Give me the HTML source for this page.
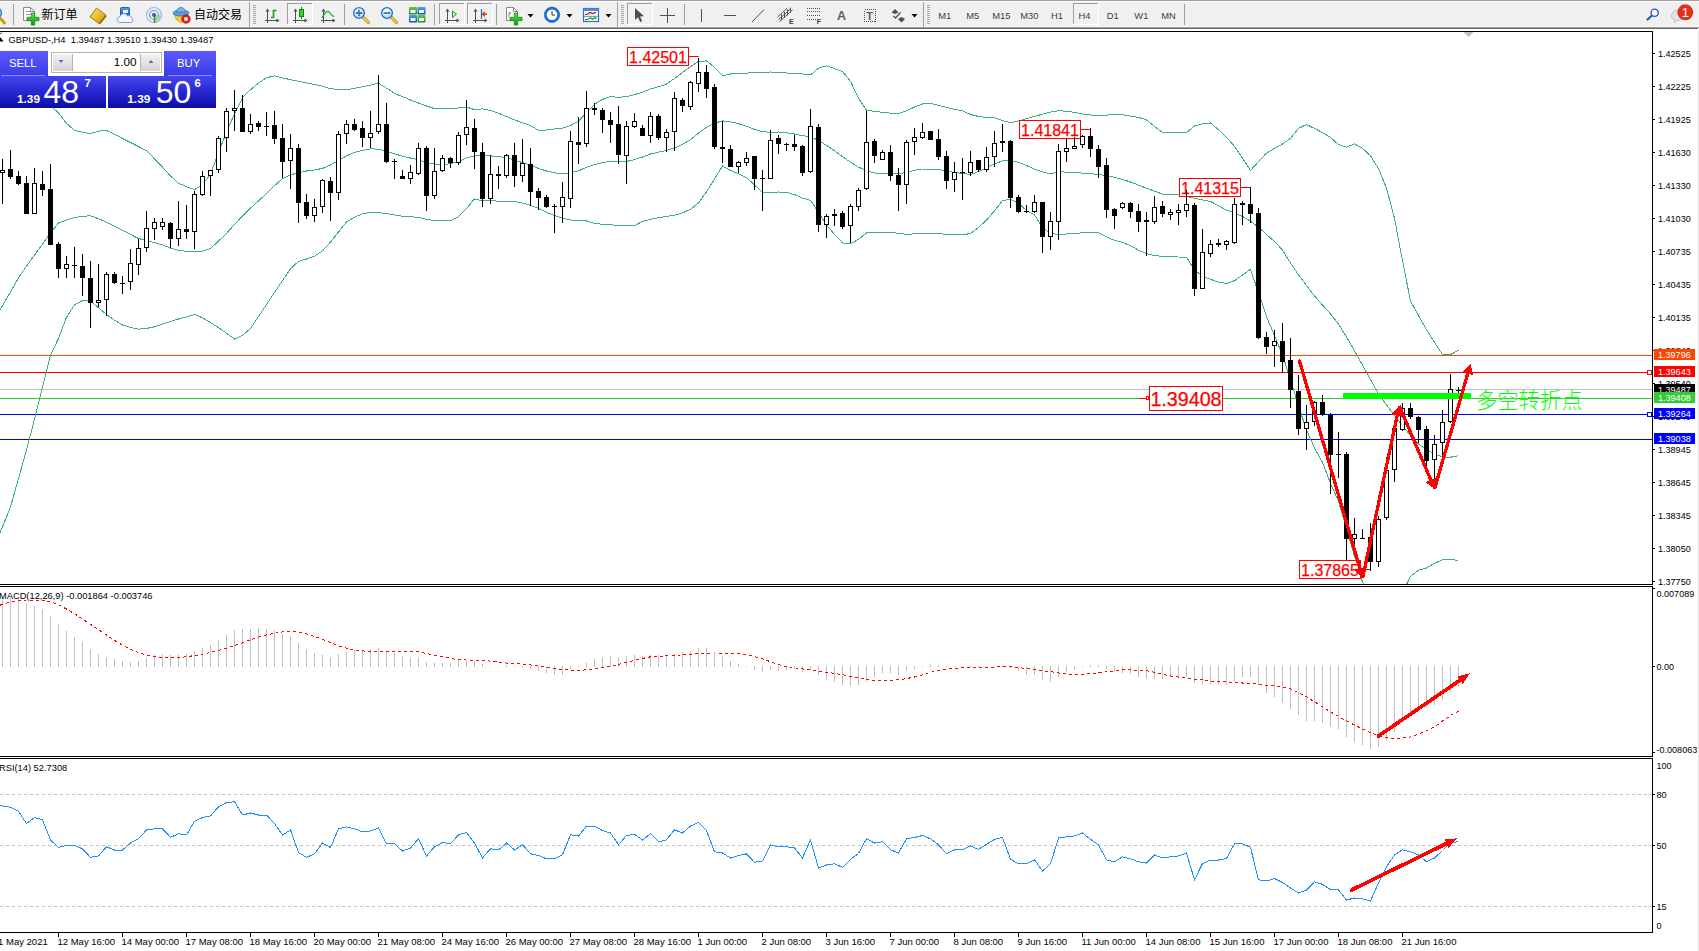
<!DOCTYPE html>
<html><head><meta charset="utf-8"><title>GBPUSD H4</title>
<style>
html,body{margin:0;padding:0;background:#fff;}
body{width:1699px;height:951px;position:relative;overflow:hidden;font-family:"Liberation Sans","Noto Sans CJK SC",sans-serif;}
</style></head><body>
<svg id="chart" width="1699" height="951" viewBox="0 0 1699 951" style="position:absolute;left:0;top:0" font-family="Liberation Sans, sans-serif">
<defs><clipPath id="cm"><rect x="0" y="32" width="1652" height="552"/></clipPath><clipPath id="cmacd"><rect x="0" y="587" width="1652" height="169"/></clipPath><clipPath id="crsi"><rect x="0" y="759" width="1652" height="173"/></clipPath></defs>
<g shape-rendering="crispEdges" fill="#000">
<rect x="0" y="31" width="1653" height="1"/>
<rect x="0" y="584" width="1653" height="1"/>
<rect x="0" y="586" width="1653" height="1"/>
<rect x="0" y="756" width="1653" height="1"/>
<rect x="0" y="758" width="1653" height="1"/>
<rect x="0" y="932" width="1653" height="1"/>
<rect x="1652" y="31" width="1" height="554"/>
<rect x="1652" y="586" width="1" height="171"/>
<rect x="1652" y="758" width="1" height="175"/>
</g>
<g shape-rendering="crispEdges">
<rect x="0" y="355" width="1652" height="1" fill="#ff4500"/>
<rect x="0" y="372" width="1652" height="1" fill="#ff0000"/>
<rect x="0" y="389" width="1652" height="1" fill="#c0c0c0"/>
<rect x="0" y="398" width="1652" height="1" fill="#32cd32"/>
<rect x="0" y="414" width="1652" height="1" fill="#0000ff"/>
<rect x="0" y="439" width="1652" height="1" fill="#0000ff"/>
</g>
<g clip-path="url(#cm)" fill="none" stroke="#3cb371" stroke-width="1" shape-rendering="crispEdges">
<polyline points="-5.5,66.5 2.5,71.8 10.5,77.2 18.5,82.5 26.5,87.8 34.5,93.6 42.5,99.8 50.5,106.1 58.5,112.8 66.5,123.3 74.5,130.5 82.5,132.2 90.5,133.6 98.5,131.1 106.5,130.6 114.5,134.2 122.5,138.5 130.5,142.5 138.5,146.5 146.5,150.7 154.5,158.8 162.5,167.2 170.5,176.0 178.5,183.2 186.5,186.7 194.5,189.6 202.5,184.6 210.5,174.2 218.5,152.5 226.5,132.1 234.5,113.9 242.5,97.8 250.5,89.8 258.5,83.2 266.5,77.7 274.5,75.9 282.5,77.8 290.5,79.7 298.5,81.3 306.5,82.9 314.5,84.4 322.5,86.2 330.5,88.7 338.5,89.4 346.5,89.8 354.5,88.3 362.5,86.8 370.5,85.1 378.5,83.3 386.5,88.1 394.5,93.3 402.5,96.7 410.5,100.0 418.5,103.0 426.5,106.0 434.5,108.7 442.5,108.9 450.5,108.9 458.5,108.0 466.5,107.0 474.5,109.7 482.5,108.9 490.5,110.5 498.5,113.2 506.5,116.5 514.5,119.9 522.5,122.9 530.5,125.5 538.5,130.3 546.5,130.0 554.5,129.0 562.5,128.1 570.5,125.6 578.5,121.2 586.5,112.6 594.5,104.2 602.5,99.4 610.5,96.4 618.5,97.4 626.5,96.6 634.5,94.6 642.5,92.2 650.5,88.9 658.5,86.7 666.5,84.1 674.5,78.5 682.5,72.6 690.5,66.6 698.5,61.4 706.5,60.9 714.5,67.3 722.5,75.8 730.5,74.0 738.5,73.5 746.5,73.1 754.5,72.7 762.5,72.4 770.5,72.0 778.5,72.5 786.5,73.0 794.5,73.9 802.5,74.0 810.5,74.9 818.5,68.1 826.5,65.8 834.5,68.7 842.5,71.6 850.5,81.3 858.5,98.3 866.5,110.1 874.5,111.5 882.5,112.3 890.5,113.2 898.5,113.6 906.5,110.9 914.5,107.0 922.5,104.0 930.5,103.5 938.5,105.4 946.5,107.5 954.5,109.4 962.5,110.7 970.5,114.5 978.5,116.5 986.5,117.4 994.5,117.9 1002.5,120.4 1010.5,122.9 1018.5,120.9 1026.5,118.7 1034.5,116.4 1042.5,114.2 1050.5,112.1 1058.5,110.8 1066.5,111.2 1074.5,112.3 1082.5,113.9 1090.5,115.0 1098.5,115.6 1106.5,115.1 1114.5,114.4 1122.5,114.7 1130.5,116.1 1138.5,117.4 1146.5,119.9 1154.5,126.4 1162.5,132.6 1170.5,132.6 1178.5,132.6 1186.5,132.6 1194.5,126.0 1202.5,123.8 1210.5,122.9 1218.5,129.7 1226.5,137.4 1234.5,146.3 1242.5,158.1 1250.5,170.4 1258.5,161.6 1266.5,153.1 1274.5,148.5 1282.5,144.0 1290.5,138.4 1298.5,128.4 1306.5,124.6 1314.5,128.4 1322.5,132.6 1330.5,137.4 1338.5,144.6 1346.5,147.2 1354.5,143.8 1362.5,148.4 1370.5,155.7 1378.5,168.7 1386.5,188.0 1394.5,218.4 1402.5,260.7 1410.5,301.1 1418.5,315.5 1426.5,329.5 1434.5,342.4 1442.5,354.5 1450.5,354.5 1458.5,350.4"/>
<polyline points="-5.5,319.7 2.5,305.7 10.5,291.8 18.5,277.8 26.5,266.2 34.5,255.1 42.5,244.1 50.5,233.1 58.5,223.0 66.5,220.1 74.5,217.5 82.5,216.5 90.5,215.7 98.5,218.8 106.5,222.1 114.5,226.1 122.5,230.1 130.5,234.4 138.5,238.5 146.5,240.5 154.5,242.6 162.5,244.9 170.5,248.0 178.5,250.4 186.5,251.3 194.5,251.3 202.5,251.3 210.5,248.4 218.5,241.2 226.5,233.3 234.5,224.6 242.5,215.8 250.5,208.2 258.5,200.9 266.5,193.6 274.5,185.6 282.5,178.7 290.5,174.8 298.5,172.7 306.5,171.0 314.5,170.0 322.5,168.4 330.5,165.0 338.5,160.5 346.5,155.9 354.5,152.3 362.5,150.4 370.5,148.9 378.5,149.1 386.5,151.0 394.5,153.8 402.5,156.2 410.5,158.0 418.5,159.7 426.5,162.4 434.5,164.1 442.5,165.0 450.5,163.6 458.5,161.8 466.5,157.8 474.5,155.8 482.5,154.9 490.5,155.9 498.5,156.6 506.5,157.5 514.5,160.1 522.5,162.6 530.5,164.9 538.5,168.4 546.5,171.0 554.5,172.8 562.5,174.0 570.5,172.6 578.5,170.9 586.5,167.2 594.5,164.6 602.5,162.7 610.5,161.1 618.5,161.7 626.5,161.5 634.5,159.6 642.5,157.0 650.5,154.0 658.5,152.1 666.5,150.6 674.5,148.0 682.5,144.3 690.5,139.6 698.5,133.1 706.5,127.2 714.5,123.2 722.5,120.8 730.5,121.8 738.5,123.7 746.5,126.1 754.5,129.4 762.5,131.7 770.5,132.3 778.5,132.0 786.5,132.8 794.5,134.0 802.5,135.7 810.5,136.6 818.5,140.5 826.5,145.3 834.5,150.7 842.5,156.7 850.5,162.2 858.5,167.1 866.5,170.6 874.5,173.0 882.5,173.3 890.5,173.5 898.5,173.5 906.5,172.6 914.5,170.3 922.5,169.0 930.5,169.0 938.5,169.5 946.5,171.1 954.5,172.4 962.5,173.4 970.5,174.5 978.5,171.6 986.5,167.9 994.5,163.9 1002.5,160.9 1010.5,160.5 1018.5,162.3 1026.5,165.5 1034.5,169.1 1042.5,171.8 1050.5,173.9 1058.5,171.6 1066.5,172.2 1074.5,172.7 1082.5,173.1 1090.5,173.7 1098.5,174.4 1106.5,175.8 1114.5,177.3 1122.5,179.4 1130.5,182.0 1138.5,185.1 1146.5,188.1 1154.5,191.1 1162.5,194.1 1170.5,194.4 1178.5,194.7 1186.5,196.5 1194.5,198.4 1202.5,199.9 1210.5,201.4 1218.5,205.8 1226.5,210.2 1234.5,212.9 1242.5,216.4 1250.5,221.2 1258.5,227.2 1266.5,234.4 1274.5,241.5 1282.5,250.0 1290.5,263.1 1298.5,275.0 1306.5,285.6 1314.5,295.9 1322.5,304.9 1330.5,313.9 1338.5,324.1 1346.5,337.0 1354.5,350.8 1362.5,365.1 1370.5,379.6 1378.5,394.0 1386.5,404.8 1394.5,415.4 1402.5,425.8 1410.5,435.5 1418.5,444.1 1426.5,449.5 1434.5,454.1 1442.5,456.9 1450.5,457.2 1458.5,455.7"/>
<polyline points="-5.5,546.4 2.5,526.7 10.5,506.9 18.5,478.6 26.5,449.9 34.5,419.2 42.5,387.2 50.5,355.3 58.5,338.4 66.5,317.2 74.5,305.0 82.5,300.5 90.5,300.9 98.5,307.8 106.5,314.5 114.5,320.2 122.5,325.0 130.5,327.5 138.5,329.1 146.5,328.4 154.5,326.8 162.5,324.1 170.5,321.4 178.5,319.0 186.5,316.8 194.5,314.5 202.5,317.9 210.5,322.6 218.5,327.6 226.5,333.3 234.5,339.0 242.5,335.3 250.5,328.6 258.5,316.6 266.5,304.6 274.5,292.6 282.5,280.6 290.5,268.7 298.5,261.5 306.5,259.0 314.5,256.2 322.5,250.9 330.5,242.1 338.5,232.0 346.5,221.9 354.5,217.2 362.5,213.9 370.5,212.4 378.5,212.7 386.5,213.5 394.5,215.0 402.5,216.2 410.5,216.7 418.5,217.4 426.5,219.5 434.5,220.4 442.5,220.5 450.5,220.7 458.5,216.6 466.5,208.7 474.5,198.8 482.5,200.9 490.5,200.4 498.5,201.3 506.5,201.4 514.5,201.5 522.5,203.1 530.5,205.4 538.5,208.3 546.5,212.3 554.5,215.6 562.5,218.2 570.5,220.0 578.5,220.4 586.5,221.0 594.5,223.4 602.5,224.3 610.5,224.9 618.5,225.3 626.5,225.6 634.5,225.7 642.5,221.3 650.5,219.4 658.5,217.8 666.5,216.4 674.5,215.2 682.5,212.9 690.5,209.2 698.5,203.1 706.5,191.7 714.5,179.1 722.5,166.0 730.5,170.5 738.5,173.7 746.5,177.6 754.5,184.9 762.5,192.3 770.5,192.3 778.5,192.0 786.5,192.3 794.5,194.6 802.5,198.1 810.5,200.3 818.5,212.2 826.5,225.0 834.5,234.3 842.5,242.9 850.5,243.9 858.5,239.3 866.5,233.0 874.5,232.6 882.5,232.4 890.5,232.4 898.5,233.3 906.5,234.4 914.5,233.8 922.5,233.5 930.5,233.5 938.5,233.6 946.5,234.4 954.5,234.9 962.5,234.7 970.5,233.6 978.5,227.5 986.5,220.1 994.5,210.8 1002.5,200.7 1010.5,199.3 1018.5,203.1 1026.5,210.7 1034.5,215.0 1042.5,227.2 1050.5,233.6 1058.5,234.3 1066.5,234.0 1074.5,233.5 1082.5,232.8 1090.5,232.5 1098.5,232.8 1106.5,236.8 1114.5,240.4 1122.5,242.5 1130.5,245.5 1138.5,250.2 1146.5,253.7 1154.5,255.7 1162.5,256.3 1170.5,256.8 1178.5,257.0 1186.5,257.2 1194.5,270.1 1202.5,276.0 1210.5,279.3 1218.5,282.2 1226.5,283.4 1234.5,280.7 1242.5,275.1 1250.5,269.4 1258.5,292.7 1266.5,316.7 1274.5,335.6 1282.5,354.8 1290.5,379.4 1298.5,406.0 1306.5,430.0 1314.5,448.0 1322.5,462.3 1330.5,483.5 1338.5,501.3 1346.5,528.7 1354.5,556.5 1362.5,582.1 1370.5,600.9 1378.5,608.5 1386.5,612.5 1394.5,604.5 1402.5,592.9 1410.5,576.2 1418.5,570.2 1426.5,568.1 1434.5,563.3 1442.5,559.8 1450.5,559.3 1458.5,560.5"/>
</g>
<rect x="627.5" y="47.5" width="61" height="18" fill="#fff" stroke="#ff0000" stroke-width="1" shape-rendering="crispEdges"/>
<text x="658.0" y="62.9" text-anchor="middle" font-size="16" fill="#ff0000" stroke="#ff0000" stroke-width="0.25">1.42501</text>
<rect x="689" y="56" width="10" height="1" fill="#ff0000" shape-rendering="crispEdges"/>
<rect x="1019.5" y="120.5" width="61" height="18" fill="#fff" stroke="#ff0000" stroke-width="1" shape-rendering="crispEdges"/>
<text x="1050.0" y="135.9" text-anchor="middle" font-size="16" fill="#ff0000" stroke="#ff0000" stroke-width="0.25">1.41841</text>
<rect x="1081" y="129" width="10" height="1" fill="#ff0000" shape-rendering="crispEdges"/>
<rect x="1179.5" y="178.5" width="61" height="18" fill="#fff" stroke="#ff0000" stroke-width="1" shape-rendering="crispEdges"/>
<text x="1210.0" y="193.9" text-anchor="middle" font-size="16" fill="#ff0000" stroke="#ff0000" stroke-width="0.25">1.41315</text>
<rect x="1241" y="187" width="10" height="1" fill="#ff0000" shape-rendering="crispEdges"/>
<rect x="1299.5" y="560.5" width="61" height="18" fill="#fff" stroke="#ff0000" stroke-width="1" shape-rendering="crispEdges"/>
<text x="1330.0" y="575.9" text-anchor="middle" font-size="16" fill="#ff0000" stroke="#ff0000" stroke-width="0.25">1.37865</text>
<rect x="1361" y="569" width="9" height="1" fill="#ff0000" shape-rendering="crispEdges"/>
<rect x="1149.5" y="386.5" width="73" height="24" fill="#fff" stroke="#ff0000" stroke-width="1" shape-rendering="crispEdges"/>
<text x="1186.0" y="406.3" text-anchor="middle" font-size="19.7" fill="#ff0000" stroke="#ff0000" stroke-width="0.25">1.39408</text>
<rect x="1139" y="398" width="7" height="1" fill="#ff0000" shape-rendering="crispEdges"/>
<rect x="1146.5" y="396.5" width="2" height="3" fill="#fff" stroke="#ff0000" shape-rendering="crispEdges"/>
<g clip-path="url(#cm)" shape-rendering="crispEdges">
<rect x="2" y="159" width="1" height="45" fill="#000"/>
<rect x="0" y="170" width="5" height="3" fill="#000"/>
<rect x="1" y="171" width="3" height="1" fill="#fff"/>
<rect x="10" y="150" width="1" height="29" fill="#000"/>
<rect x="8" y="169" width="5" height="8" fill="#000"/>
<rect x="18" y="171" width="1" height="14" fill="#000"/>
<rect x="16" y="176" width="5" height="8" fill="#000"/>
<rect x="26" y="176" width="1" height="38" fill="#000"/>
<rect x="24" y="183" width="5" height="31" fill="#000"/>
<rect x="34" y="168" width="1" height="46" fill="#000"/>
<rect x="32" y="183" width="5" height="31" fill="#000"/>
<rect x="33" y="184" width="3" height="29" fill="#fff"/>
<rect x="42" y="171" width="1" height="25" fill="#000"/>
<rect x="40" y="184" width="5" height="6" fill="#000"/>
<rect x="50" y="164" width="1" height="81" fill="#000"/>
<rect x="48" y="189" width="5" height="56" fill="#000"/>
<rect x="58" y="242" width="1" height="36" fill="#000"/>
<rect x="56" y="244" width="5" height="25" fill="#000"/>
<rect x="66" y="256" width="1" height="22" fill="#000"/>
<rect x="64" y="264" width="5" height="5" fill="#000"/>
<rect x="65" y="265" width="3" height="3" fill="#fff"/>
<rect x="74" y="247" width="1" height="31" fill="#000"/>
<rect x="72" y="265" width="5" height="1" fill="#000"/>
<rect x="82" y="254" width="1" height="42" fill="#000"/>
<rect x="80" y="266" width="5" height="12" fill="#000"/>
<rect x="90" y="261" width="1" height="67" fill="#000"/>
<rect x="88" y="278" width="5" height="25" fill="#000"/>
<rect x="98" y="264" width="1" height="43" fill="#000"/>
<rect x="96" y="300" width="5" height="3" fill="#000"/>
<rect x="97" y="301" width="3" height="1" fill="#fff"/>
<rect x="106" y="272" width="1" height="44" fill="#000"/>
<rect x="104" y="274" width="5" height="26" fill="#000"/>
<rect x="105" y="275" width="3" height="24" fill="#fff"/>
<rect x="114" y="272" width="1" height="12" fill="#000"/>
<rect x="112" y="274" width="5" height="9" fill="#000"/>
<rect x="122" y="276" width="1" height="18" fill="#000"/>
<rect x="120" y="283" width="5" height="1" fill="#000"/>
<rect x="130" y="249" width="1" height="41" fill="#000"/>
<rect x="128" y="263" width="5" height="19" fill="#000"/>
<rect x="129" y="264" width="3" height="17" fill="#fff"/>
<rect x="138" y="239" width="1" height="36" fill="#000"/>
<rect x="136" y="248" width="5" height="17" fill="#000"/>
<rect x="137" y="249" width="3" height="15" fill="#fff"/>
<rect x="146" y="211" width="1" height="41" fill="#000"/>
<rect x="144" y="228" width="5" height="20" fill="#000"/>
<rect x="145" y="229" width="3" height="18" fill="#fff"/>
<rect x="154" y="218" width="1" height="22" fill="#000"/>
<rect x="152" y="222" width="5" height="7" fill="#000"/>
<rect x="153" y="223" width="3" height="5" fill="#fff"/>
<rect x="162" y="218" width="1" height="12" fill="#000"/>
<rect x="160" y="222" width="5" height="5" fill="#000"/>
<rect x="161" y="223" width="3" height="3" fill="#fff"/>
<rect x="170" y="222" width="1" height="26" fill="#000"/>
<rect x="168" y="223" width="5" height="16" fill="#000"/>
<rect x="178" y="201" width="1" height="45" fill="#000"/>
<rect x="176" y="229" width="5" height="10" fill="#000"/>
<rect x="177" y="230" width="3" height="8" fill="#fff"/>
<rect x="186" y="205" width="1" height="34" fill="#000"/>
<rect x="184" y="229" width="5" height="3" fill="#000"/>
<rect x="194" y="191" width="1" height="58" fill="#000"/>
<rect x="192" y="194" width="5" height="38" fill="#000"/>
<rect x="193" y="195" width="3" height="36" fill="#fff"/>
<rect x="202" y="171" width="1" height="25" fill="#000"/>
<rect x="200" y="176" width="5" height="19" fill="#000"/>
<rect x="201" y="177" width="3" height="17" fill="#fff"/>
<rect x="210" y="170" width="1" height="26" fill="#000"/>
<rect x="208" y="170" width="5" height="6" fill="#000"/>
<rect x="209" y="171" width="3" height="4" fill="#fff"/>
<rect x="218" y="136" width="1" height="37" fill="#000"/>
<rect x="216" y="138" width="5" height="32" fill="#000"/>
<rect x="217" y="139" width="3" height="30" fill="#fff"/>
<rect x="226" y="108" width="1" height="44" fill="#000"/>
<rect x="224" y="111" width="5" height="27" fill="#000"/>
<rect x="225" y="112" width="3" height="25" fill="#fff"/>
<rect x="234" y="90" width="1" height="41" fill="#000"/>
<rect x="232" y="108" width="5" height="3" fill="#000"/>
<rect x="233" y="109" width="3" height="1" fill="#fff"/>
<rect x="242" y="95" width="1" height="37" fill="#000"/>
<rect x="240" y="108" width="5" height="24" fill="#000"/>
<rect x="250" y="114" width="1" height="20" fill="#000"/>
<rect x="248" y="124" width="5" height="8" fill="#000"/>
<rect x="249" y="125" width="3" height="6" fill="#fff"/>
<rect x="258" y="121" width="1" height="10" fill="#000"/>
<rect x="256" y="123" width="5" height="4" fill="#000"/>
<rect x="266" y="112" width="1" height="24" fill="#000"/>
<rect x="264" y="126" width="5" height="1" fill="#000"/>
<rect x="274" y="111" width="1" height="33" fill="#000"/>
<rect x="272" y="125" width="5" height="14" fill="#000"/>
<rect x="282" y="124" width="1" height="54" fill="#000"/>
<rect x="280" y="138" width="5" height="24" fill="#000"/>
<rect x="290" y="134" width="1" height="55" fill="#000"/>
<rect x="288" y="148" width="5" height="13" fill="#000"/>
<rect x="289" y="149" width="3" height="11" fill="#fff"/>
<rect x="298" y="144" width="1" height="79" fill="#000"/>
<rect x="296" y="148" width="5" height="55" fill="#000"/>
<rect x="306" y="194" width="1" height="25" fill="#000"/>
<rect x="304" y="202" width="5" height="14" fill="#000"/>
<rect x="314" y="199" width="1" height="23" fill="#000"/>
<rect x="312" y="207" width="5" height="9" fill="#000"/>
<rect x="313" y="208" width="3" height="7" fill="#fff"/>
<rect x="322" y="179" width="1" height="34" fill="#000"/>
<rect x="320" y="180" width="5" height="27" fill="#000"/>
<rect x="321" y="181" width="3" height="25" fill="#fff"/>
<rect x="330" y="177" width="1" height="44" fill="#000"/>
<rect x="328" y="181" width="5" height="12" fill="#000"/>
<rect x="338" y="131" width="1" height="69" fill="#000"/>
<rect x="336" y="134" width="5" height="59" fill="#000"/>
<rect x="337" y="135" width="3" height="57" fill="#fff"/>
<rect x="346" y="120" width="1" height="24" fill="#000"/>
<rect x="344" y="124" width="5" height="10" fill="#000"/>
<rect x="345" y="125" width="3" height="8" fill="#fff"/>
<rect x="354" y="119" width="1" height="12" fill="#000"/>
<rect x="352" y="124" width="5" height="6" fill="#000"/>
<rect x="362" y="121" width="1" height="26" fill="#000"/>
<rect x="360" y="128" width="5" height="10" fill="#000"/>
<rect x="370" y="111" width="1" height="37" fill="#000"/>
<rect x="368" y="133" width="5" height="5" fill="#000"/>
<rect x="369" y="134" width="3" height="3" fill="#fff"/>
<rect x="378" y="75" width="1" height="59" fill="#000"/>
<rect x="376" y="124" width="5" height="8" fill="#000"/>
<rect x="377" y="125" width="3" height="6" fill="#fff"/>
<rect x="386" y="103" width="1" height="60" fill="#000"/>
<rect x="384" y="124" width="5" height="38" fill="#000"/>
<rect x="394" y="159" width="1" height="20" fill="#000"/>
<rect x="392" y="161" width="5" height="1" fill="#000"/>
<rect x="402" y="170" width="1" height="9" fill="#000"/>
<rect x="400" y="176" width="5" height="3" fill="#000"/>
<rect x="410" y="165" width="1" height="19" fill="#000"/>
<rect x="408" y="172" width="5" height="7" fill="#000"/>
<rect x="409" y="173" width="3" height="5" fill="#fff"/>
<rect x="418" y="143" width="1" height="32" fill="#000"/>
<rect x="416" y="148" width="5" height="26" fill="#000"/>
<rect x="417" y="149" width="3" height="24" fill="#fff"/>
<rect x="426" y="146" width="1" height="65" fill="#000"/>
<rect x="424" y="148" width="5" height="48" fill="#000"/>
<rect x="434" y="148" width="1" height="51" fill="#000"/>
<rect x="432" y="171" width="5" height="25" fill="#000"/>
<rect x="433" y="172" width="3" height="23" fill="#fff"/>
<rect x="442" y="155" width="1" height="17" fill="#000"/>
<rect x="440" y="158" width="5" height="13" fill="#000"/>
<rect x="441" y="159" width="3" height="11" fill="#fff"/>
<rect x="450" y="157" width="1" height="11" fill="#000"/>
<rect x="448" y="158" width="5" height="5" fill="#000"/>
<rect x="458" y="132" width="1" height="33" fill="#000"/>
<rect x="456" y="135" width="5" height="28" fill="#000"/>
<rect x="457" y="136" width="3" height="26" fill="#fff"/>
<rect x="466" y="100" width="1" height="45" fill="#000"/>
<rect x="464" y="127" width="5" height="8" fill="#000"/>
<rect x="465" y="128" width="3" height="6" fill="#fff"/>
<rect x="474" y="119" width="1" height="50" fill="#000"/>
<rect x="472" y="128" width="5" height="24" fill="#000"/>
<rect x="482" y="143" width="1" height="64" fill="#000"/>
<rect x="480" y="152" width="5" height="47" fill="#000"/>
<rect x="490" y="155" width="1" height="49" fill="#000"/>
<rect x="488" y="174" width="5" height="25" fill="#000"/>
<rect x="489" y="175" width="3" height="23" fill="#fff"/>
<rect x="498" y="166" width="1" height="23" fill="#000"/>
<rect x="496" y="174" width="5" height="2" fill="#000"/>
<rect x="506" y="154" width="1" height="24" fill="#000"/>
<rect x="504" y="155" width="5" height="21" fill="#000"/>
<rect x="505" y="156" width="3" height="19" fill="#fff"/>
<rect x="514" y="143" width="1" height="44" fill="#000"/>
<rect x="512" y="155" width="5" height="21" fill="#000"/>
<rect x="522" y="139" width="1" height="43" fill="#000"/>
<rect x="520" y="163" width="5" height="13" fill="#000"/>
<rect x="521" y="164" width="3" height="11" fill="#fff"/>
<rect x="530" y="148" width="1" height="58" fill="#000"/>
<rect x="528" y="164" width="5" height="28" fill="#000"/>
<rect x="538" y="188" width="1" height="22" fill="#000"/>
<rect x="536" y="191" width="5" height="7" fill="#000"/>
<rect x="546" y="195" width="1" height="13" fill="#000"/>
<rect x="544" y="197" width="5" height="10" fill="#000"/>
<rect x="554" y="204" width="1" height="29" fill="#000"/>
<rect x="552" y="206" width="5" height="1" fill="#000"/>
<rect x="562" y="182" width="1" height="41" fill="#000"/>
<rect x="560" y="197" width="5" height="10" fill="#000"/>
<rect x="561" y="198" width="3" height="8" fill="#fff"/>
<rect x="570" y="131" width="1" height="77" fill="#000"/>
<rect x="568" y="141" width="5" height="58" fill="#000"/>
<rect x="569" y="142" width="3" height="56" fill="#fff"/>
<rect x="578" y="117" width="1" height="47" fill="#000"/>
<rect x="576" y="142" width="5" height="3" fill="#000"/>
<rect x="586" y="91" width="1" height="56" fill="#000"/>
<rect x="584" y="108" width="5" height="36" fill="#000"/>
<rect x="585" y="109" width="3" height="34" fill="#fff"/>
<rect x="594" y="103" width="1" height="12" fill="#000"/>
<rect x="592" y="108" width="5" height="2" fill="#000"/>
<rect x="602" y="108" width="1" height="25" fill="#000"/>
<rect x="600" y="110" width="5" height="10" fill="#000"/>
<rect x="610" y="112" width="1" height="31" fill="#000"/>
<rect x="608" y="120" width="5" height="5" fill="#000"/>
<rect x="618" y="106" width="1" height="58" fill="#000"/>
<rect x="616" y="124" width="5" height="31" fill="#000"/>
<rect x="626" y="121" width="1" height="63" fill="#000"/>
<rect x="624" y="126" width="5" height="30" fill="#000"/>
<rect x="625" y="127" width="3" height="28" fill="#fff"/>
<rect x="634" y="113" width="1" height="15" fill="#000"/>
<rect x="632" y="121" width="5" height="6" fill="#000"/>
<rect x="633" y="122" width="3" height="4" fill="#fff"/>
<rect x="642" y="125" width="1" height="11" fill="#000"/>
<rect x="640" y="128" width="5" height="8" fill="#000"/>
<rect x="650" y="112" width="1" height="31" fill="#000"/>
<rect x="648" y="116" width="5" height="20" fill="#000"/>
<rect x="649" y="117" width="3" height="18" fill="#fff"/>
<rect x="658" y="114" width="1" height="26" fill="#000"/>
<rect x="656" y="116" width="5" height="22" fill="#000"/>
<rect x="666" y="129" width="1" height="23" fill="#000"/>
<rect x="664" y="132" width="5" height="6" fill="#000"/>
<rect x="665" y="133" width="3" height="4" fill="#fff"/>
<rect x="674" y="92" width="1" height="59" fill="#000"/>
<rect x="672" y="98" width="5" height="34" fill="#000"/>
<rect x="673" y="99" width="3" height="32" fill="#fff"/>
<rect x="682" y="98" width="1" height="14" fill="#000"/>
<rect x="680" y="100" width="5" height="6" fill="#000"/>
<rect x="690" y="81" width="1" height="29" fill="#000"/>
<rect x="688" y="82" width="5" height="25" fill="#000"/>
<rect x="689" y="83" width="3" height="23" fill="#fff"/>
<rect x="698" y="58" width="1" height="34" fill="#000"/>
<rect x="696" y="72" width="5" height="12" fill="#000"/>
<rect x="697" y="73" width="3" height="10" fill="#fff"/>
<rect x="706" y="65" width="1" height="33" fill="#000"/>
<rect x="704" y="72" width="5" height="17" fill="#000"/>
<rect x="714" y="84" width="1" height="65" fill="#000"/>
<rect x="712" y="87" width="5" height="60" fill="#000"/>
<rect x="722" y="121" width="1" height="42" fill="#000"/>
<rect x="720" y="147" width="5" height="2" fill="#000"/>
<rect x="730" y="145" width="1" height="22" fill="#000"/>
<rect x="728" y="149" width="5" height="18" fill="#000"/>
<rect x="738" y="161" width="1" height="12" fill="#000"/>
<rect x="736" y="162" width="5" height="5" fill="#000"/>
<rect x="737" y="163" width="3" height="3" fill="#fff"/>
<rect x="746" y="152" width="1" height="14" fill="#000"/>
<rect x="744" y="158" width="5" height="5" fill="#000"/>
<rect x="745" y="159" width="3" height="3" fill="#fff"/>
<rect x="754" y="156" width="1" height="34" fill="#000"/>
<rect x="752" y="156" width="5" height="23" fill="#000"/>
<rect x="762" y="170" width="1" height="41" fill="#000"/>
<rect x="760" y="178" width="5" height="1" fill="#000"/>
<rect x="770" y="130" width="1" height="49" fill="#000"/>
<rect x="768" y="140" width="5" height="39" fill="#000"/>
<rect x="769" y="141" width="3" height="37" fill="#fff"/>
<rect x="778" y="135" width="1" height="19" fill="#000"/>
<rect x="776" y="138" width="5" height="6" fill="#000"/>
<rect x="786" y="143" width="1" height="8" fill="#000"/>
<rect x="784" y="144" width="5" height="1" fill="#000"/>
<rect x="794" y="135" width="1" height="16" fill="#000"/>
<rect x="792" y="144" width="5" height="3" fill="#000"/>
<rect x="802" y="145" width="1" height="31" fill="#000"/>
<rect x="800" y="146" width="5" height="27" fill="#000"/>
<rect x="810" y="109" width="1" height="64" fill="#000"/>
<rect x="808" y="126" width="5" height="46" fill="#000"/>
<rect x="809" y="127" width="3" height="44" fill="#fff"/>
<rect x="818" y="124" width="1" height="108" fill="#000"/>
<rect x="816" y="127" width="5" height="98" fill="#000"/>
<rect x="826" y="214" width="1" height="24" fill="#000"/>
<rect x="824" y="216" width="5" height="9" fill="#000"/>
<rect x="825" y="217" width="3" height="7" fill="#fff"/>
<rect x="834" y="209" width="1" height="17" fill="#000"/>
<rect x="832" y="214" width="5" height="2" fill="#000"/>
<rect x="842" y="211" width="1" height="18" fill="#000"/>
<rect x="840" y="213" width="5" height="14" fill="#000"/>
<rect x="850" y="204" width="1" height="39" fill="#000"/>
<rect x="848" y="206" width="5" height="20" fill="#000"/>
<rect x="849" y="207" width="3" height="18" fill="#fff"/>
<rect x="858" y="188" width="1" height="23" fill="#000"/>
<rect x="856" y="190" width="5" height="17" fill="#000"/>
<rect x="857" y="191" width="3" height="15" fill="#fff"/>
<rect x="866" y="111" width="1" height="79" fill="#000"/>
<rect x="864" y="142" width="5" height="47" fill="#000"/>
<rect x="865" y="143" width="3" height="45" fill="#fff"/>
<rect x="874" y="139" width="1" height="24" fill="#000"/>
<rect x="872" y="141" width="5" height="15" fill="#000"/>
<rect x="882" y="150" width="1" height="10" fill="#000"/>
<rect x="880" y="152" width="5" height="8" fill="#000"/>
<rect x="881" y="153" width="3" height="6" fill="#fff"/>
<rect x="890" y="145" width="1" height="36" fill="#000"/>
<rect x="888" y="152" width="5" height="24" fill="#000"/>
<rect x="898" y="168" width="1" height="43" fill="#000"/>
<rect x="896" y="175" width="5" height="10" fill="#000"/>
<rect x="906" y="140" width="1" height="64" fill="#000"/>
<rect x="904" y="142" width="5" height="43" fill="#000"/>
<rect x="905" y="143" width="3" height="41" fill="#fff"/>
<rect x="914" y="128" width="1" height="27" fill="#000"/>
<rect x="912" y="137" width="5" height="5" fill="#000"/>
<rect x="913" y="138" width="3" height="3" fill="#fff"/>
<rect x="922" y="123" width="1" height="16" fill="#000"/>
<rect x="920" y="132" width="5" height="6" fill="#000"/>
<rect x="921" y="133" width="3" height="4" fill="#fff"/>
<rect x="930" y="131" width="1" height="9" fill="#000"/>
<rect x="928" y="131" width="5" height="9" fill="#000"/>
<rect x="938" y="129" width="1" height="31" fill="#000"/>
<rect x="936" y="139" width="5" height="18" fill="#000"/>
<rect x="946" y="151" width="1" height="38" fill="#000"/>
<rect x="944" y="156" width="5" height="25" fill="#000"/>
<rect x="954" y="162" width="1" height="30" fill="#000"/>
<rect x="952" y="172" width="5" height="8" fill="#000"/>
<rect x="953" y="173" width="3" height="6" fill="#fff"/>
<rect x="962" y="158" width="1" height="42" fill="#000"/>
<rect x="960" y="172" width="5" height="1" fill="#000"/>
<rect x="970" y="151" width="1" height="25" fill="#000"/>
<rect x="968" y="162" width="5" height="11" fill="#000"/>
<rect x="969" y="163" width="3" height="9" fill="#fff"/>
<rect x="978" y="160" width="1" height="12" fill="#000"/>
<rect x="976" y="160" width="5" height="10" fill="#000"/>
<rect x="986" y="147" width="1" height="25" fill="#000"/>
<rect x="984" y="157" width="5" height="13" fill="#000"/>
<rect x="985" y="158" width="3" height="11" fill="#fff"/>
<rect x="994" y="131" width="1" height="36" fill="#000"/>
<rect x="992" y="143" width="5" height="14" fill="#000"/>
<rect x="993" y="144" width="3" height="12" fill="#fff"/>
<rect x="1002" y="124" width="1" height="28" fill="#000"/>
<rect x="1000" y="141" width="5" height="2" fill="#000"/>
<rect x="1010" y="140" width="1" height="68" fill="#000"/>
<rect x="1008" y="141" width="5" height="57" fill="#000"/>
<rect x="1018" y="195" width="1" height="18" fill="#000"/>
<rect x="1016" y="197" width="5" height="15" fill="#000"/>
<rect x="1026" y="205" width="1" height="8" fill="#000"/>
<rect x="1024" y="211" width="5" height="1" fill="#000"/>
<rect x="1034" y="195" width="1" height="18" fill="#000"/>
<rect x="1032" y="202" width="5" height="10" fill="#000"/>
<rect x="1033" y="203" width="3" height="8" fill="#fff"/>
<rect x="1042" y="202" width="1" height="51" fill="#000"/>
<rect x="1040" y="202" width="5" height="35" fill="#000"/>
<rect x="1050" y="212" width="1" height="38" fill="#000"/>
<rect x="1048" y="221" width="5" height="16" fill="#000"/>
<rect x="1049" y="222" width="3" height="14" fill="#fff"/>
<rect x="1058" y="144" width="1" height="96" fill="#000"/>
<rect x="1056" y="151" width="5" height="71" fill="#000"/>
<rect x="1057" y="152" width="3" height="69" fill="#fff"/>
<rect x="1066" y="139" width="1" height="23" fill="#000"/>
<rect x="1064" y="148" width="5" height="4" fill="#000"/>
<rect x="1065" y="149" width="3" height="2" fill="#fff"/>
<rect x="1074" y="137" width="1" height="12" fill="#000"/>
<rect x="1072" y="146" width="5" height="3" fill="#000"/>
<rect x="1073" y="147" width="3" height="1" fill="#fff"/>
<rect x="1082" y="135" width="1" height="13" fill="#000"/>
<rect x="1080" y="136" width="5" height="9" fill="#000"/>
<rect x="1081" y="137" width="3" height="7" fill="#fff"/>
<rect x="1090" y="128" width="1" height="29" fill="#000"/>
<rect x="1088" y="136" width="5" height="13" fill="#000"/>
<rect x="1098" y="145" width="1" height="33" fill="#000"/>
<rect x="1096" y="149" width="5" height="18" fill="#000"/>
<rect x="1106" y="158" width="1" height="60" fill="#000"/>
<rect x="1104" y="165" width="5" height="45" fill="#000"/>
<rect x="1114" y="208" width="1" height="21" fill="#000"/>
<rect x="1112" y="209" width="5" height="7" fill="#000"/>
<rect x="1122" y="202" width="1" height="7" fill="#000"/>
<rect x="1120" y="203" width="5" height="5" fill="#000"/>
<rect x="1121" y="204" width="3" height="3" fill="#fff"/>
<rect x="1130" y="202" width="1" height="16" fill="#000"/>
<rect x="1128" y="203" width="5" height="9" fill="#000"/>
<rect x="1138" y="204" width="1" height="28" fill="#000"/>
<rect x="1136" y="211" width="5" height="11" fill="#000"/>
<rect x="1146" y="212" width="1" height="44" fill="#000"/>
<rect x="1144" y="220" width="5" height="2" fill="#000"/>
<rect x="1154" y="196" width="1" height="28" fill="#000"/>
<rect x="1152" y="207" width="5" height="15" fill="#000"/>
<rect x="1153" y="208" width="3" height="13" fill="#fff"/>
<rect x="1162" y="201" width="1" height="16" fill="#000"/>
<rect x="1160" y="206" width="5" height="8" fill="#000"/>
<rect x="1170" y="209" width="1" height="11" fill="#000"/>
<rect x="1168" y="212" width="5" height="3" fill="#000"/>
<rect x="1169" y="213" width="3" height="1" fill="#fff"/>
<rect x="1178" y="204" width="1" height="21" fill="#000"/>
<rect x="1176" y="210" width="5" height="3" fill="#000"/>
<rect x="1177" y="211" width="3" height="1" fill="#fff"/>
<rect x="1186" y="190" width="1" height="27" fill="#000"/>
<rect x="1184" y="204" width="5" height="7" fill="#000"/>
<rect x="1185" y="205" width="3" height="5" fill="#fff"/>
<rect x="1194" y="203" width="1" height="93" fill="#000"/>
<rect x="1192" y="205" width="5" height="84" fill="#000"/>
<rect x="1202" y="229" width="1" height="60" fill="#000"/>
<rect x="1200" y="252" width="5" height="37" fill="#000"/>
<rect x="1201" y="253" width="3" height="35" fill="#fff"/>
<rect x="1210" y="240" width="1" height="17" fill="#000"/>
<rect x="1208" y="244" width="5" height="10" fill="#000"/>
<rect x="1209" y="245" width="3" height="8" fill="#fff"/>
<rect x="1218" y="239" width="1" height="8" fill="#000"/>
<rect x="1216" y="243" width="5" height="2" fill="#000"/>
<rect x="1226" y="240" width="1" height="10" fill="#000"/>
<rect x="1224" y="241" width="5" height="4" fill="#000"/>
<rect x="1225" y="242" width="3" height="2" fill="#fff"/>
<rect x="1234" y="198" width="1" height="46" fill="#000"/>
<rect x="1232" y="204" width="5" height="39" fill="#000"/>
<rect x="1233" y="205" width="3" height="37" fill="#fff"/>
<rect x="1242" y="201" width="1" height="24" fill="#000"/>
<rect x="1240" y="203" width="5" height="2" fill="#000"/>
<rect x="1250" y="187" width="1" height="36" fill="#000"/>
<rect x="1248" y="204" width="5" height="10" fill="#000"/>
<rect x="1258" y="208" width="1" height="131" fill="#000"/>
<rect x="1256" y="213" width="5" height="125" fill="#000"/>
<rect x="1266" y="332" width="1" height="22" fill="#000"/>
<rect x="1264" y="337" width="5" height="10" fill="#000"/>
<rect x="1274" y="330" width="1" height="37" fill="#000"/>
<rect x="1272" y="341" width="5" height="5" fill="#000"/>
<rect x="1273" y="342" width="3" height="3" fill="#fff"/>
<rect x="1282" y="323" width="1" height="49" fill="#000"/>
<rect x="1280" y="341" width="5" height="21" fill="#000"/>
<rect x="1290" y="338" width="1" height="70" fill="#000"/>
<rect x="1288" y="360" width="5" height="30" fill="#000"/>
<rect x="1298" y="375" width="1" height="60" fill="#000"/>
<rect x="1296" y="391" width="5" height="38" fill="#000"/>
<rect x="1306" y="405" width="1" height="45" fill="#000"/>
<rect x="1304" y="422" width="5" height="7" fill="#000"/>
<rect x="1305" y="423" width="3" height="5" fill="#fff"/>
<rect x="1314" y="401" width="1" height="25" fill="#000"/>
<rect x="1312" y="402" width="5" height="20" fill="#000"/>
<rect x="1313" y="403" width="3" height="18" fill="#fff"/>
<rect x="1322" y="395" width="1" height="21" fill="#000"/>
<rect x="1320" y="402" width="5" height="13" fill="#000"/>
<rect x="1330" y="413" width="1" height="81" fill="#000"/>
<rect x="1328" y="415" width="5" height="40" fill="#000"/>
<rect x="1338" y="432" width="1" height="46" fill="#000"/>
<rect x="1336" y="454" width="5" height="1" fill="#000"/>
<rect x="1346" y="452" width="1" height="108" fill="#000"/>
<rect x="1344" y="454" width="5" height="85" fill="#000"/>
<rect x="1354" y="518" width="1" height="27" fill="#000"/>
<rect x="1352" y="534" width="5" height="5" fill="#000"/>
<rect x="1353" y="535" width="3" height="3" fill="#fff"/>
<rect x="1362" y="529" width="1" height="10" fill="#000"/>
<rect x="1360" y="538" width="5" height="1" fill="#000"/>
<rect x="1370" y="523" width="1" height="48" fill="#000"/>
<rect x="1368" y="537" width="5" height="25" fill="#000"/>
<rect x="1378" y="516" width="1" height="51" fill="#000"/>
<rect x="1376" y="519" width="5" height="43" fill="#000"/>
<rect x="1377" y="520" width="3" height="41" fill="#fff"/>
<rect x="1386" y="457" width="1" height="63" fill="#000"/>
<rect x="1384" y="470" width="5" height="48" fill="#000"/>
<rect x="1385" y="471" width="3" height="46" fill="#fff"/>
<rect x="1394" y="423" width="1" height="59" fill="#000"/>
<rect x="1392" y="428" width="5" height="42" fill="#000"/>
<rect x="1393" y="429" width="3" height="40" fill="#fff"/>
<rect x="1402" y="403" width="1" height="28" fill="#000"/>
<rect x="1400" y="408" width="5" height="22" fill="#000"/>
<rect x="1401" y="409" width="3" height="20" fill="#fff"/>
<rect x="1410" y="403" width="1" height="16" fill="#000"/>
<rect x="1408" y="408" width="5" height="9" fill="#000"/>
<rect x="1418" y="416" width="1" height="27" fill="#000"/>
<rect x="1416" y="417" width="5" height="13" fill="#000"/>
<rect x="1426" y="426" width="1" height="40" fill="#000"/>
<rect x="1424" y="429" width="5" height="32" fill="#000"/>
<rect x="1434" y="435" width="1" height="53" fill="#000"/>
<rect x="1432" y="444" width="5" height="16" fill="#000"/>
<rect x="1433" y="445" width="3" height="14" fill="#fff"/>
<rect x="1442" y="410" width="1" height="56" fill="#000"/>
<rect x="1440" y="422" width="5" height="21" fill="#000"/>
<rect x="1441" y="423" width="3" height="19" fill="#fff"/>
<rect x="1450" y="374" width="1" height="49" fill="#000"/>
<rect x="1448" y="389" width="5" height="33" fill="#000"/>
<rect x="1449" y="390" width="3" height="31" fill="#fff"/>
<rect x="1458" y="387" width="1" height="11" fill="#000"/>
<rect x="1456" y="390" width="5" height="1" fill="#000"/>
</g>
<rect x="1343" y="393" width="128" height="6" fill="#00ff00" shape-rendering="crispEdges"/>
<text x="1476" y="407.7" font-family="Noto Sans CJK SC, sans-serif" font-weight="300" font-size="21.3" fill="#00ff00">多空转折点</text>
<g font-size="9.05" fill="#000">
<rect x="1653" y="53" width="2" height="1" fill="#000" shape-rendering="crispEdges"/>
<text x="1658" y="56.7">1.42525</text>
<rect x="1653" y="86" width="2" height="1" fill="#000" shape-rendering="crispEdges"/>
<text x="1658" y="89.9">1.42225</text>
<rect x="1653" y="119" width="2" height="1" fill="#000" shape-rendering="crispEdges"/>
<text x="1658" y="123.0">1.41925</text>
<rect x="1653" y="152" width="2" height="1" fill="#000" shape-rendering="crispEdges"/>
<text x="1658" y="155.7">1.41630</text>
<rect x="1653" y="185" width="2" height="1" fill="#000" shape-rendering="crispEdges"/>
<text x="1658" y="188.8">1.41330</text>
<rect x="1653" y="218" width="2" height="1" fill="#000" shape-rendering="crispEdges"/>
<text x="1658" y="222.0">1.41030</text>
<rect x="1653" y="251" width="2" height="1" fill="#000" shape-rendering="crispEdges"/>
<text x="1658" y="254.6">1.40735</text>
<rect x="1653" y="284" width="2" height="1" fill="#000" shape-rendering="crispEdges"/>
<text x="1658" y="287.8">1.40435</text>
<rect x="1653" y="317" width="2" height="1" fill="#000" shape-rendering="crispEdges"/>
<text x="1658" y="321.0">1.40135</text>
<rect x="1653" y="350" width="2" height="1" fill="#000" shape-rendering="crispEdges"/>
<text x="1658" y="353.6">1.39840</text>
<rect x="1653" y="383" width="2" height="1" fill="#000" shape-rendering="crispEdges"/>
<text x="1658" y="386.8">1.39540</text>
<rect x="1653" y="416" width="2" height="1" fill="#000" shape-rendering="crispEdges"/>
<text x="1658" y="419.9">1.39240</text>
<rect x="1653" y="449" width="2" height="1" fill="#000" shape-rendering="crispEdges"/>
<text x="1658" y="452.5">1.38945</text>
<rect x="1653" y="482" width="2" height="1" fill="#000" shape-rendering="crispEdges"/>
<text x="1658" y="485.7">1.38645</text>
<rect x="1653" y="515" width="2" height="1" fill="#000" shape-rendering="crispEdges"/>
<text x="1658" y="518.9">1.38345</text>
<rect x="1653" y="548" width="2" height="1" fill="#000" shape-rendering="crispEdges"/>
<text x="1658" y="551.5">1.38050</text>
<rect x="1653" y="581" width="2" height="1" fill="#000" shape-rendering="crispEdges"/>
<text x="1658" y="584.7">1.37750</text>
</g>
<rect x="1654" y="349" width="41" height="11" fill="#ff4500" shape-rendering="crispEdges"/>
<text x="1658" y="357.8" font-size="9.05" fill="#fff">1.39796</text>
<rect x="1654" y="366" width="41" height="11" fill="#ff0000" shape-rendering="crispEdges"/>
<text x="1658" y="374.8" font-size="9.05" fill="#fff">1.39643</text>
<rect x="1654" y="384" width="41" height="11" fill="#000000" shape-rendering="crispEdges"/>
<text x="1658" y="392.8" font-size="9.05" fill="#fff">1.39487</text>
<rect x="1654" y="392" width="41" height="11" fill="#32cd32" shape-rendering="crispEdges"/>
<text x="1658" y="400.8" font-size="9.05" fill="#fff">1.39408</text>
<rect x="1654" y="408" width="41" height="11" fill="#0000ff" shape-rendering="crispEdges"/>
<text x="1658" y="416.8" font-size="9.05" fill="#fff">1.39264</text>
<rect x="1654" y="433" width="41" height="11" fill="#0000ff" shape-rendering="crispEdges"/>
<text x="1658" y="441.8" font-size="9.05" fill="#fff">1.39038</text>
<rect x="1647.5" y="370.5" width="4" height="4" fill="#fff" stroke="#ff0000" shape-rendering="crispEdges"/>
<rect x="1647.5" y="412.5" width="4" height="4" fill="#fff" stroke="#0000ff" shape-rendering="crispEdges"/>
<g clip-path="url(#cmacd)" shape-rendering="crispEdges">
<rect x="2" y="596" width="1" height="71" fill="#c0c0c0"/>
<rect x="10" y="598" width="1" height="69" fill="#c0c0c0"/>
<rect x="18" y="599" width="1" height="68" fill="#c0c0c0"/>
<rect x="26" y="604" width="1" height="63" fill="#c0c0c0"/>
<rect x="34" y="606" width="1" height="61" fill="#c0c0c0"/>
<rect x="42" y="609" width="1" height="58" fill="#c0c0c0"/>
<rect x="50" y="616" width="1" height="51" fill="#c0c0c0"/>
<rect x="58" y="624" width="1" height="43" fill="#c0c0c0"/>
<rect x="66" y="631" width="1" height="36" fill="#c0c0c0"/>
<rect x="74" y="637" width="1" height="30" fill="#c0c0c0"/>
<rect x="82" y="642" width="1" height="25" fill="#c0c0c0"/>
<rect x="90" y="649" width="1" height="18" fill="#c0c0c0"/>
<rect x="98" y="654" width="1" height="13" fill="#c0c0c0"/>
<rect x="106" y="657" width="1" height="10" fill="#c0c0c0"/>
<rect x="114" y="659" width="1" height="8" fill="#c0c0c0"/>
<rect x="122" y="661" width="1" height="6" fill="#c0c0c0"/>
<rect x="130" y="662" width="1" height="5" fill="#c0c0c0"/>
<rect x="138" y="661" width="1" height="6" fill="#c0c0c0"/>
<rect x="146" y="658" width="1" height="9" fill="#c0c0c0"/>
<rect x="154" y="655" width="1" height="12" fill="#c0c0c0"/>
<rect x="162" y="654" width="1" height="13" fill="#c0c0c0"/>
<rect x="170" y="655" width="1" height="12" fill="#c0c0c0"/>
<rect x="178" y="654" width="1" height="13" fill="#c0c0c0"/>
<rect x="186" y="654" width="1" height="13" fill="#c0c0c0"/>
<rect x="194" y="651" width="1" height="16" fill="#c0c0c0"/>
<rect x="202" y="648" width="1" height="19" fill="#c0c0c0"/>
<rect x="210" y="645" width="1" height="22" fill="#c0c0c0"/>
<rect x="218" y="640" width="1" height="27" fill="#c0c0c0"/>
<rect x="226" y="635" width="1" height="32" fill="#c0c0c0"/>
<rect x="234" y="630" width="1" height="37" fill="#c0c0c0"/>
<rect x="242" y="629" width="1" height="38" fill="#c0c0c0"/>
<rect x="250" y="629" width="1" height="38" fill="#c0c0c0"/>
<rect x="258" y="628" width="1" height="39" fill="#c0c0c0"/>
<rect x="266" y="629" width="1" height="38" fill="#c0c0c0"/>
<rect x="274" y="630" width="1" height="37" fill="#c0c0c0"/>
<rect x="282" y="634" width="1" height="33" fill="#c0c0c0"/>
<rect x="290" y="636" width="1" height="31" fill="#c0c0c0"/>
<rect x="298" y="643" width="1" height="24" fill="#c0c0c0"/>
<rect x="306" y="649" width="1" height="18" fill="#c0c0c0"/>
<rect x="314" y="653" width="1" height="14" fill="#c0c0c0"/>
<rect x="322" y="655" width="1" height="12" fill="#c0c0c0"/>
<rect x="330" y="657" width="1" height="10" fill="#c0c0c0"/>
<rect x="338" y="654" width="1" height="13" fill="#c0c0c0"/>
<rect x="346" y="652" width="1" height="15" fill="#c0c0c0"/>
<rect x="354" y="650" width="1" height="17" fill="#c0c0c0"/>
<rect x="362" y="650" width="1" height="17" fill="#c0c0c0"/>
<rect x="370" y="649" width="1" height="18" fill="#c0c0c0"/>
<rect x="378" y="648" width="1" height="19" fill="#c0c0c0"/>
<rect x="386" y="651" width="1" height="16" fill="#c0c0c0"/>
<rect x="394" y="653" width="1" height="14" fill="#c0c0c0"/>
<rect x="402" y="656" width="1" height="11" fill="#c0c0c0"/>
<rect x="410" y="658" width="1" height="9" fill="#c0c0c0"/>
<rect x="418" y="658" width="1" height="9" fill="#c0c0c0"/>
<rect x="426" y="662" width="1" height="5" fill="#c0c0c0"/>
<rect x="434" y="663" width="1" height="4" fill="#c0c0c0"/>
<rect x="442" y="663" width="1" height="4" fill="#c0c0c0"/>
<rect x="450" y="663" width="1" height="4" fill="#c0c0c0"/>
<rect x="458" y="660" width="1" height="7" fill="#c0c0c0"/>
<rect x="466" y="660" width="1" height="7" fill="#c0c0c0"/>
<rect x="474" y="661" width="1" height="6" fill="#c0c0c0"/>
<rect x="482" y="664" width="1" height="3" fill="#c0c0c0"/>
<rect x="490" y="666" width="1" height="1" fill="#c0c0c0"/>
<rect x="498" y="666" width="1" height="1" fill="#c0c0c0"/>
<rect x="506" y="665" width="1" height="2" fill="#c0c0c0"/>
<rect x="514" y="666" width="1" height="1" fill="#c0c0c0"/>
<rect x="522" y="666" width="1" height="1" fill="#c0c0c0"/>
<rect x="530" y="666" width="1" height="3" fill="#c0c0c0"/>
<rect x="538" y="666" width="1" height="5" fill="#c0c0c0"/>
<rect x="546" y="666" width="1" height="7" fill="#c0c0c0"/>
<rect x="554" y="666" width="1" height="9" fill="#c0c0c0"/>
<rect x="562" y="666" width="1" height="9" fill="#c0c0c0"/>
<rect x="570" y="666" width="1" height="3" fill="#c0c0c0"/>
<rect x="578" y="666" width="1" height="1" fill="#c0c0c0"/>
<rect x="586" y="663" width="1" height="4" fill="#c0c0c0"/>
<rect x="594" y="659" width="1" height="8" fill="#c0c0c0"/>
<rect x="602" y="657" width="1" height="10" fill="#c0c0c0"/>
<rect x="610" y="656" width="1" height="11" fill="#c0c0c0"/>
<rect x="618" y="657" width="1" height="10" fill="#c0c0c0"/>
<rect x="626" y="656" width="1" height="11" fill="#c0c0c0"/>
<rect x="634" y="655" width="1" height="12" fill="#c0c0c0"/>
<rect x="642" y="656" width="1" height="11" fill="#c0c0c0"/>
<rect x="650" y="655" width="1" height="12" fill="#c0c0c0"/>
<rect x="658" y="655" width="1" height="12" fill="#c0c0c0"/>
<rect x="666" y="656" width="1" height="11" fill="#c0c0c0"/>
<rect x="674" y="654" width="1" height="13" fill="#c0c0c0"/>
<rect x="682" y="652" width="1" height="15" fill="#c0c0c0"/>
<rect x="690" y="651" width="1" height="16" fill="#c0c0c0"/>
<rect x="698" y="648" width="1" height="19" fill="#c0c0c0"/>
<rect x="706" y="648" width="1" height="19" fill="#c0c0c0"/>
<rect x="714" y="652" width="1" height="15" fill="#c0c0c0"/>
<rect x="722" y="656" width="1" height="11" fill="#c0c0c0"/>
<rect x="730" y="661" width="1" height="6" fill="#c0c0c0"/>
<rect x="738" y="664" width="1" height="3" fill="#c0c0c0"/>
<rect x="746" y="666" width="1" height="1" fill="#c0c0c0"/>
<rect x="754" y="666" width="1" height="4" fill="#c0c0c0"/>
<rect x="762" y="666" width="1" height="6" fill="#c0c0c0"/>
<rect x="770" y="666" width="1" height="4" fill="#c0c0c0"/>
<rect x="778" y="666" width="1" height="5" fill="#c0c0c0"/>
<rect x="786" y="666" width="1" height="4" fill="#c0c0c0"/>
<rect x="794" y="666" width="1" height="3" fill="#c0c0c0"/>
<rect x="802" y="666" width="1" height="6" fill="#c0c0c0"/>
<rect x="810" y="666" width="1" height="4" fill="#c0c0c0"/>
<rect x="818" y="666" width="1" height="9" fill="#c0c0c0"/>
<rect x="826" y="666" width="1" height="14" fill="#c0c0c0"/>
<rect x="834" y="666" width="1" height="16" fill="#c0c0c0"/>
<rect x="842" y="666" width="1" height="19" fill="#c0c0c0"/>
<rect x="850" y="666" width="1" height="20" fill="#c0c0c0"/>
<rect x="858" y="666" width="1" height="19" fill="#c0c0c0"/>
<rect x="866" y="666" width="1" height="15" fill="#c0c0c0"/>
<rect x="874" y="666" width="1" height="11" fill="#c0c0c0"/>
<rect x="882" y="666" width="1" height="7" fill="#c0c0c0"/>
<rect x="890" y="666" width="1" height="7" fill="#c0c0c0"/>
<rect x="898" y="666" width="1" height="9" fill="#c0c0c0"/>
<rect x="906" y="666" width="1" height="5" fill="#c0c0c0"/>
<rect x="914" y="666" width="1" height="3" fill="#c0c0c0"/>
<rect x="922" y="666" width="1" height="1" fill="#c0c0c0"/>
<rect x="930" y="664" width="1" height="3" fill="#c0c0c0"/>
<rect x="938" y="665" width="1" height="2" fill="#c0c0c0"/>
<rect x="946" y="666" width="1" height="1" fill="#c0c0c0"/>
<rect x="954" y="666" width="1" height="1" fill="#c0c0c0"/>
<rect x="962" y="666" width="1" height="1" fill="#c0c0c0"/>
<rect x="970" y="666" width="1" height="1" fill="#c0c0c0"/>
<rect x="978" y="666" width="1" height="1" fill="#c0c0c0"/>
<rect x="986" y="666" width="1" height="1" fill="#c0c0c0"/>
<rect x="994" y="666" width="1" height="1" fill="#c0c0c0"/>
<rect x="1002" y="665" width="1" height="2" fill="#c0c0c0"/>
<rect x="1010" y="666" width="1" height="2" fill="#c0c0c0"/>
<rect x="1018" y="666" width="1" height="5" fill="#c0c0c0"/>
<rect x="1026" y="666" width="1" height="9" fill="#c0c0c0"/>
<rect x="1034" y="666" width="1" height="9" fill="#c0c0c0"/>
<rect x="1042" y="666" width="1" height="14" fill="#c0c0c0"/>
<rect x="1050" y="666" width="1" height="16" fill="#c0c0c0"/>
<rect x="1058" y="666" width="1" height="11" fill="#c0c0c0"/>
<rect x="1066" y="666" width="1" height="6" fill="#c0c0c0"/>
<rect x="1074" y="666" width="1" height="4" fill="#c0c0c0"/>
<rect x="1082" y="666" width="1" height="1" fill="#c0c0c0"/>
<rect x="1090" y="665" width="1" height="2" fill="#c0c0c0"/>
<rect x="1098" y="665" width="1" height="2" fill="#c0c0c0"/>
<rect x="1106" y="666" width="1" height="3" fill="#c0c0c0"/>
<rect x="1114" y="666" width="1" height="6" fill="#c0c0c0"/>
<rect x="1122" y="666" width="1" height="7" fill="#c0c0c0"/>
<rect x="1130" y="666" width="1" height="8" fill="#c0c0c0"/>
<rect x="1138" y="666" width="1" height="11" fill="#c0c0c0"/>
<rect x="1146" y="666" width="1" height="13" fill="#c0c0c0"/>
<rect x="1154" y="666" width="1" height="13" fill="#c0c0c0"/>
<rect x="1162" y="666" width="1" height="13" fill="#c0c0c0"/>
<rect x="1170" y="666" width="1" height="11" fill="#c0c0c0"/>
<rect x="1178" y="666" width="1" height="11" fill="#c0c0c0"/>
<rect x="1186" y="666" width="1" height="11" fill="#c0c0c0"/>
<rect x="1194" y="666" width="1" height="17" fill="#c0c0c0"/>
<rect x="1202" y="666" width="1" height="19" fill="#c0c0c0"/>
<rect x="1210" y="666" width="1" height="19" fill="#c0c0c0"/>
<rect x="1218" y="666" width="1" height="19" fill="#c0c0c0"/>
<rect x="1226" y="666" width="1" height="19" fill="#c0c0c0"/>
<rect x="1234" y="666" width="1" height="16" fill="#c0c0c0"/>
<rect x="1242" y="666" width="1" height="11" fill="#c0c0c0"/>
<rect x="1250" y="666" width="1" height="11" fill="#c0c0c0"/>
<rect x="1258" y="666" width="1" height="19" fill="#c0c0c0"/>
<rect x="1266" y="666" width="1" height="27" fill="#c0c0c0"/>
<rect x="1274" y="666" width="1" height="31" fill="#c0c0c0"/>
<rect x="1282" y="666" width="1" height="37" fill="#c0c0c0"/>
<rect x="1290" y="666" width="1" height="43" fill="#c0c0c0"/>
<rect x="1298" y="666" width="1" height="49" fill="#c0c0c0"/>
<rect x="1306" y="666" width="1" height="55" fill="#c0c0c0"/>
<rect x="1314" y="666" width="1" height="55" fill="#c0c0c0"/>
<rect x="1322" y="666" width="1" height="57" fill="#c0c0c0"/>
<rect x="1330" y="666" width="1" height="61" fill="#c0c0c0"/>
<rect x="1338" y="666" width="1" height="63" fill="#c0c0c0"/>
<rect x="1346" y="666" width="1" height="71" fill="#c0c0c0"/>
<rect x="1354" y="666" width="1" height="76" fill="#c0c0c0"/>
<rect x="1362" y="666" width="1" height="79" fill="#c0c0c0"/>
<rect x="1370" y="666" width="1" height="83" fill="#c0c0c0"/>
<rect x="1378" y="666" width="1" height="81" fill="#c0c0c0"/>
<rect x="1386" y="666" width="1" height="75" fill="#c0c0c0"/>
<rect x="1394" y="666" width="1" height="66" fill="#c0c0c0"/>
<rect x="1402" y="666" width="1" height="56" fill="#c0c0c0"/>
<rect x="1410" y="666" width="1" height="50" fill="#c0c0c0"/>
<rect x="1418" y="666" width="1" height="44" fill="#c0c0c0"/>
<rect x="1426" y="666" width="1" height="41" fill="#c0c0c0"/>
<rect x="1434" y="666" width="1" height="39" fill="#c0c0c0"/>
<rect x="1442" y="666" width="1" height="34" fill="#c0c0c0"/>
<rect x="1450" y="666" width="1" height="26" fill="#c0c0c0"/>
<rect x="1458" y="666" width="1" height="21" fill="#c0c0c0"/>
<polyline fill="none" stroke="#ff0000" stroke-width="1" stroke-dasharray="3 3" points="-5.5,606.9 2.5,604.4 10.5,601.8 18.5,600.8 26.5,600.0 34.5,600.0 42.5,600.0 50.5,601.8 58.5,604.8 66.5,609.0 74.5,613.7 82.5,619.0 90.5,624.3 98.5,629.6 106.5,635.0 114.5,640.3 122.5,645.3 130.5,649.3 138.5,652.7 146.5,655.1 154.5,656.8 162.5,657.7 170.5,657.8 178.5,657.6 186.5,656.7 194.5,655.6 202.5,654.1 210.5,652.5 218.5,650.4 226.5,648.2 234.5,645.5 242.5,642.8 250.5,639.8 258.5,637.2 266.5,634.9 274.5,633.2 282.5,631.9 290.5,631.2 298.5,632.1 306.5,633.8 314.5,636.5 322.5,639.4 330.5,642.8 338.5,645.9 346.5,648.2 354.5,649.8 362.5,650.9 370.5,651.5 378.5,651.7 386.5,651.6 394.5,651.4 402.5,651.4 410.5,651.6 418.5,651.9 426.5,653.5 434.5,655.1 442.5,656.7 450.5,658.3 458.5,659.8 466.5,660.0 474.5,660.2 482.5,660.4 490.5,661.1 498.5,662.1 506.5,663.1 514.5,663.6 522.5,664.1 530.5,665.0 538.5,666.0 546.5,667.3 554.5,668.6 562.5,669.6 570.5,670.2 578.5,670.4 586.5,669.8 594.5,668.9 602.5,667.6 610.5,666.3 618.5,664.3 626.5,662.3 634.5,660.3 642.5,658.4 650.5,656.8 658.5,656.4 666.5,655.9 674.5,655.4 682.5,654.8 690.5,654.2 698.5,653.6 706.5,653.1 714.5,653.0 722.5,653.0 730.5,653.0 738.5,653.8 746.5,654.9 754.5,656.6 762.5,658.9 770.5,661.7 778.5,664.7 786.5,666.5 794.5,667.8 802.5,668.9 810.5,670.0 818.5,671.1 826.5,672.2 834.5,673.4 842.5,674.7 850.5,676.5 858.5,677.7 866.5,679.6 874.5,680.2 882.5,680.5 890.5,680.2 898.5,679.9 906.5,678.6 914.5,677.0 922.5,674.9 930.5,672.3 938.5,670.7 946.5,669.2 954.5,668.4 962.5,667.6 970.5,667.2 978.5,667.2 986.5,667.1 994.5,667.0 1002.5,666.9 1010.5,666.8 1018.5,667.5 1026.5,668.6 1034.5,669.6 1042.5,670.6 1050.5,671.7 1058.5,672.9 1066.5,673.8 1074.5,674.5 1082.5,674.4 1090.5,673.7 1098.5,672.8 1106.5,671.8 1114.5,670.8 1122.5,669.9 1130.5,670.0 1138.5,670.3 1146.5,670.7 1154.5,672.3 1162.5,674.1 1170.5,676.0 1178.5,677.1 1186.5,678.1 1194.5,679.1 1202.5,680.0 1210.5,681.0 1218.5,681.5 1226.5,681.7 1234.5,682.8 1242.5,683.0 1250.5,683.0 1258.5,684.3 1266.5,685.3 1274.5,686.0 1282.5,686.9 1290.5,688.9 1298.5,692.5 1306.5,696.8 1314.5,701.8 1322.5,706.9 1330.5,711.8 1338.5,716.5 1346.5,720.9 1354.5,725.0 1362.5,729.0 1370.5,732.6 1378.5,735.9 1386.5,737.9 1394.5,738.3 1402.5,738.1 1410.5,737.0 1418.5,734.2 1426.5,730.8 1434.5,726.8 1442.5,721.1 1450.5,715.5 1458.5,711.0"/>
</g>
<g font-size="9.4" fill="#000">
<text x="-1" y="598.6" font-size="9.3">MACD(12,26,9) -0.001864 -0.003746</text>
<text x="1656.5" y="597.0" font-size="9.05">0.007089</text>
<text x="1656.5" y="669.8" font-size="9.05">0.00</text>
<text x="1656.5" y="752.8" font-size="9.05">-0.008063</text>
<rect x="1653" y="588" width="2" height="1" fill="#000" shape-rendering="crispEdges"/>
<rect x="1653" y="666" width="2" height="1" fill="#000" shape-rendering="crispEdges"/>
<rect x="1653" y="752" width="2" height="1" fill="#000" shape-rendering="crispEdges"/>
</g>
<g shape-rendering="crispEdges">
<line x1="0" y1="794.5" x2="1652" y2="794.5" stroke="#c0c0c0" stroke-width="1" stroke-dasharray="3 3"/>
<line x1="0" y1="845.5" x2="1652" y2="845.5" stroke="#c0c0c0" stroke-width="1" stroke-dasharray="3 3"/>
<line x1="0" y1="906.5" x2="1652" y2="906.5" stroke="#c0c0c0" stroke-width="1" stroke-dasharray="3 3"/>
<polyline clip-path="url(#crsi)" fill="none" stroke="#1e90ff" stroke-width="1" points="-5.5,804.7 2.5,806.0 10.5,807.3 18.5,811.3 26.5,823.5 34.5,817.5 42.5,819.8 50.5,840.0 58.5,847.3 66.5,845.5 74.5,845.5 82.5,848.8 90.5,857.3 98.5,856.0 106.5,846.8 114.5,850.0 122.5,850.0 130.5,843.0 138.5,838.8 146.5,830.0 154.5,828.8 162.5,828.8 170.5,837.3 178.5,833.8 186.5,835.0 194.5,821.3 202.5,817.5 210.5,816.0 218.5,806.8 226.5,802.5 234.5,801.8 242.5,815.0 250.5,813.0 258.5,815.0 266.5,815.0 274.5,823.5 282.5,835.0 290.5,830.0 298.5,852.5 306.5,857.3 314.5,853.8 322.5,843.0 330.5,847.5 338.5,828.8 346.5,826.8 354.5,828.8 362.5,831.8 370.5,831.0 378.5,828.0 386.5,843.8 394.5,843.8 402.5,851.0 410.5,848.0 418.5,838.8 426.5,856.0 434.5,846.8 442.5,842.5 450.5,843.8 458.5,834.8 466.5,832.5 474.5,843.0 482.5,858.0 490.5,848.8 498.5,850.0 506.5,843.0 514.5,850.0 522.5,844.8 530.5,853.8 538.5,855.5 546.5,858.8 554.5,858.8 562.5,854.8 570.5,834.8 578.5,836.0 586.5,826.0 594.5,826.0 602.5,830.5 610.5,833.0 618.5,844.8 626.5,835.5 634.5,834.3 642.5,840.0 650.5,833.8 658.5,841.8 666.5,839.8 674.5,829.8 682.5,833.0 690.5,826.0 698.5,822.5 706.5,830.5 714.5,851.8 722.5,853.0 730.5,858.0 738.5,855.5 746.5,853.8 754.5,862.3 762.5,861.0 770.5,844.8 778.5,846.8 786.5,846.8 794.5,848.0 802.5,858.0 810.5,839.8 818.5,868.0 826.5,865.0 834.5,863.8 842.5,867.3 850.5,859.3 858.5,853.5 866.5,838.8 874.5,843.0 882.5,841.8 890.5,849.8 898.5,853.0 906.5,838.8 914.5,837.5 922.5,835.5 930.5,838.8 938.5,844.8 946.5,853.8 954.5,850.0 962.5,849.8 970.5,846.0 978.5,849.3 986.5,844.3 994.5,839.3 1002.5,837.5 1010.5,859.3 1018.5,863.8 1026.5,863.8 1034.5,859.8 1042.5,871.0 1050.5,863.8 1058.5,838.0 1066.5,836.8 1074.5,836.0 1082.5,833.0 1090.5,839.3 1098.5,845.0 1106.5,859.8 1114.5,861.8 1122.5,856.8 1130.5,858.8 1138.5,861.8 1146.5,863.0 1154.5,855.0 1162.5,858.0 1170.5,856.8 1178.5,856.0 1186.5,853.0 1194.5,879.8 1202.5,863.5 1210.5,860.0 1218.5,860.0 1226.5,858.5 1234.5,843.8 1242.5,843.8 1250.5,847.3 1258.5,879.8 1266.5,881.0 1274.5,878.5 1282.5,882.5 1290.5,888.0 1298.5,893.0 1306.5,890.0 1314.5,881.8 1322.5,884.3 1330.5,889.8 1338.5,889.8 1346.5,900.0 1354.5,898.0 1362.5,898.8 1370.5,901.0 1378.5,883.0 1386.5,866.8 1394.5,855.0 1402.5,849.8 1410.5,851.8 1418.5,854.8 1426.5,861.8 1434.5,858.0 1442.5,850.5 1450.5,842.5 1458.5,841.8"/>
</g>
<g font-size="9.4" fill="#000">
<text x="-1" y="770.6" font-size="9.3">RSI(14) 52.7308</text>
<text x="1656.5" y="768.8" font-size="9.05">100</text>
<text x="1656.5" y="797.8" font-size="9.05">80</text>
<text x="1656.5" y="848.8" font-size="9.05">50</text>
<text x="1656.5" y="909.8" font-size="9.05">15</text>
<text x="1656.5" y="929.1" font-size="9.05">0</text>
<rect x="1653" y="794" width="2" height="1" fill="#000" shape-rendering="crispEdges"/>
<rect x="1653" y="845" width="2" height="1" fill="#000" shape-rendering="crispEdges"/>
<rect x="1653" y="906" width="2" height="1" fill="#000" shape-rendering="crispEdges"/>
<text x="-6.5" y="944.6" font-size="9.5">11 May 2021</text>
<rect x="58" y="933" width="1" height="4" fill="#000" shape-rendering="crispEdges"/>
<text x="57.5" y="944.6" font-size="9.5">12 May 16:00</text>
<rect x="122" y="933" width="1" height="4" fill="#000" shape-rendering="crispEdges"/>
<text x="121.5" y="944.6" font-size="9.5">14 May 00:00</text>
<rect x="186" y="933" width="1" height="4" fill="#000" shape-rendering="crispEdges"/>
<text x="185.5" y="944.6" font-size="9.5">17 May 08:00</text>
<rect x="250" y="933" width="1" height="4" fill="#000" shape-rendering="crispEdges"/>
<text x="249.5" y="944.6" font-size="9.5">18 May 16:00</text>
<rect x="314" y="933" width="1" height="4" fill="#000" shape-rendering="crispEdges"/>
<text x="313.5" y="944.6" font-size="9.5">20 May 00:00</text>
<rect x="378" y="933" width="1" height="4" fill="#000" shape-rendering="crispEdges"/>
<text x="377.5" y="944.6" font-size="9.5">21 May 08:00</text>
<rect x="442" y="933" width="1" height="4" fill="#000" shape-rendering="crispEdges"/>
<text x="441.5" y="944.6" font-size="9.5">24 May 16:00</text>
<rect x="506" y="933" width="1" height="4" fill="#000" shape-rendering="crispEdges"/>
<text x="505.5" y="944.6" font-size="9.5">26 May 00:00</text>
<rect x="570" y="933" width="1" height="4" fill="#000" shape-rendering="crispEdges"/>
<text x="569.5" y="944.6" font-size="9.5">27 May 08:00</text>
<rect x="634" y="933" width="1" height="4" fill="#000" shape-rendering="crispEdges"/>
<text x="633.5" y="944.6" font-size="9.5">28 May 16:00</text>
<rect x="698" y="933" width="1" height="4" fill="#000" shape-rendering="crispEdges"/>
<text x="697.5" y="944.6" font-size="9.5">1 Jun 00:00</text>
<rect x="762" y="933" width="1" height="4" fill="#000" shape-rendering="crispEdges"/>
<text x="761.5" y="944.6" font-size="9.5">2 Jun 08:00</text>
<rect x="826" y="933" width="1" height="4" fill="#000" shape-rendering="crispEdges"/>
<text x="825.5" y="944.6" font-size="9.5">3 Jun 16:00</text>
<rect x="890" y="933" width="1" height="4" fill="#000" shape-rendering="crispEdges"/>
<text x="889.5" y="944.6" font-size="9.5">7 Jun 00:00</text>
<rect x="954" y="933" width="1" height="4" fill="#000" shape-rendering="crispEdges"/>
<text x="953.5" y="944.6" font-size="9.5">8 Jun 08:00</text>
<rect x="1018" y="933" width="1" height="4" fill="#000" shape-rendering="crispEdges"/>
<text x="1017.5" y="944.6" font-size="9.5">9 Jun 16:00</text>
<rect x="1082" y="933" width="1" height="4" fill="#000" shape-rendering="crispEdges"/>
<text x="1081.5" y="944.6" font-size="9.5">11 Jun 00:00</text>
<rect x="1146" y="933" width="1" height="4" fill="#000" shape-rendering="crispEdges"/>
<text x="1145.5" y="944.6" font-size="9.5">14 Jun 08:00</text>
<rect x="1210" y="933" width="1" height="4" fill="#000" shape-rendering="crispEdges"/>
<text x="1209.5" y="944.6" font-size="9.5">15 Jun 16:00</text>
<rect x="1274" y="933" width="1" height="4" fill="#000" shape-rendering="crispEdges"/>
<text x="1273.5" y="944.6" font-size="9.5">17 Jun 00:00</text>
<rect x="1338" y="933" width="1" height="4" fill="#000" shape-rendering="crispEdges"/>
<text x="1337.5" y="944.6" font-size="9.5">18 Jun 08:00</text>
<rect x="1402" y="933" width="1" height="4" fill="#000" shape-rendering="crispEdges"/>
<text x="1401.5" y="944.6" font-size="9.5">21 Jun 16:00</text>
</g>
<g shape-rendering="crispEdges">
<line x1="1299.5" y1="361.0" x2="1360.4" y2="570.3" stroke="#ff0000" stroke-width="3.3" stroke-linecap="round"/>
<polygon points="1362.6,578.0 1354.1,570.0 1365.5,566.8" fill="#ff0000"/>
<line x1="1362.6" y1="578.0" x2="1397.6" y2="413.8" stroke="#ff0000" stroke-width="3.3" stroke-linecap="butt"/>
<polygon points="1399.3,406.0 1403.0,417.0 1391.4,414.5" fill="#ff0000"/>
<line x1="1399.3" y1="406.0" x2="1431.5" y2="481.6" stroke="#ff0000" stroke-width="3.3" stroke-linecap="butt"/>
<polygon points="1434.6,489.0 1425.3,482.1 1436.1,477.5" fill="#ff0000"/>
<line x1="1434.6" y1="489.0" x2="1468.3" y2="371.7" stroke="#ff0000" stroke-width="3.3" stroke-linecap="butt"/>
<polygon points="1470.5,364.0 1473.4,375.2 1462.1,372.0" fill="#ff0000"/>
<line x1="1378.5" y1="736.0" x2="1461.8" y2="679.0" stroke="#ff0000" stroke-width="3.7" stroke-linecap="round"/>
<polygon points="1470.0,673.3 1462.7,683.9 1457.5,676.3" fill="#ff0000"/>
<line x1="1351.5" y1="890.0" x2="1448.3" y2="842.7" stroke="#ff0000" stroke-width="3.7" stroke-linecap="round"/>
<polygon points="1457.3,838.3 1448.5,847.7 1444.5,839.4" fill="#ff0000"/>
</g>
<rect x="1698" y="29" width="1" height="922" fill="#e3e3e3" shape-rendering="crispEdges"/>
<polygon points="1464,32 1473,32 1468.5,36.8" fill="#c0c0c0" shape-rendering="crispEdges"/>
</svg>
<div id="tradepanel" style="position:absolute;left:0;top:51px;width:216px;height:57px;background:#fff;">
<div style="position:absolute;left:0;top:0;width:48px;height:25px;background:linear-gradient(#5a5aff,#3c3ce6);"><div style="position:absolute;left:1px;right:3px;bottom:0;height:1px;background:#8a8aff;"></div></div>
<div style="position:absolute;left:164px;top:0;width:52px;height:25px;background:linear-gradient(#5a5aff,#3c3ce6);"><div style="position:absolute;left:4px;right:4px;bottom:0;height:1px;background:#8a8aff;"></div></div>
<div style="position:absolute;left:51px;top:1px;width:111px;height:21px;background:#fff;border:1px solid #b4b4b4;box-sizing:border-box;"><div style="position:absolute;left:1px;top:1px;width:19px;height:17px;background:linear-gradient(#f2f2f2,#d4d4d4);border-right:1px solid #b4b4b4;"></div><div style="position:absolute;right:1px;top:1px;width:19px;height:17px;background:linear-gradient(#f2f2f2,#d4d4d4);border-left:1px solid #b4b4b4;"></div></div>
<div style="position:absolute;left:0;top:25px;width:106px;height:32px;background:linear-gradient(#4646ee 0%,#2a2ad4 45%,#0c0ca6 100%);"></div>
<div style="position:absolute;left:108px;top:25px;width:108px;height:32px;background:linear-gradient(#4646ee 0%,#2a2ad4 45%,#0c0ca6 100%);"></div>
</div>
<svg id="paneltext" width="260" height="84" viewBox="0 28 260 84" style="position:absolute;left:0;top:28px" font-family="Liberation Sans, sans-serif">
<polygon points="0,37 0,41.5 3.6,41.5" fill="#000"/><path d="M0.3,32.6 l1.4,1.4 M1.7,32.6 l-1.4,1.4" stroke="#000" stroke-width="0.6"/>
<text x="8.5" y="42.7" font-size="9.33" fill="#000" xml:space="preserve">GBPUSD-,H4  1.39487 1.39510 1.39430 1.39487</text>
<g fill="#fff">
<text x="9" y="67" font-size="11.3">SELL</text>
<text x="177" y="67" font-size="11.3">BUY</text>
<text x="136.6" y="65.7" font-size="11.7" fill="#000" text-anchor="end">1.00</text>
<polygon points="58.5,60 63.5,60 61,63" fill="#5a6ab0"/><polygon points="148.5,63 153.5,63 151,60" fill="#5a6ab0"/>
<text x="17" y="102.7" font-size="11.8" font-weight="bold">1.39</text>
<text x="43.4" y="102.7" font-size="32">48</text>
<text x="84.6" y="86.9" font-size="11.3" font-weight="bold">7</text>
<text x="127.3" y="102.7" font-size="11.8" font-weight="bold">1.39</text>
<text x="155.7" y="102.7" font-size="32">50</text>
<text x="194.5" y="86.9" font-size="11.3" font-weight="bold">6</text>
</g></svg>
<svg id="toolbar" width="1699" height="31" viewBox="0 0 1699 31" style="position:absolute;left:0;top:0" font-family="Liberation Sans, Noto Sans CJK SC, sans-serif">
<defs><linearGradient id="gplus" x1="0" y1="0" x2="0" y2="1"><stop offset="0" stop-color="#5fe05f"/><stop offset="1" stop-color="#0a9a0a"/></linearGradient><linearGradient id="ggold" x1="0" y1="0" x2="1" y2="1"><stop offset="0" stop-color="#ffe680"/><stop offset="0.6" stop-color="#e6b422"/><stop offset="1" stop-color="#b8860b"/></linearGradient><radialGradient id="glens" cx="0.4" cy="0.35" r="0.7"><stop offset="0" stop-color="#ffffff"/><stop offset="1" stop-color="#a8d4f0"/></radialGradient><linearGradient id="gblue" x1="0" y1="0" x2="0" y2="1"><stop offset="0" stop-color="#4aa3f0"/><stop offset="1" stop-color="#0b52b8"/></linearGradient><linearGradient id="ggreen" x1="0" y1="0" x2="0" y2="1"><stop offset="0" stop-color="#6cc24a"/><stop offset="1" stop-color="#2e8b1e"/></linearGradient><pattern id="chk" width="2" height="2" patternUnits="userSpaceOnUse"><rect width="2" height="2" fill="#f7f7f7"/><rect width="1" height="1" fill="#ececec"/><rect x="1" y="1" width="1" height="1" fill="#ececec"/></pattern></defs>
<rect x="0" y="0" width="1699" height="31" fill="#fff"/>
<rect x="0" y="0" width="1699" height="27" fill="#f0f0f0"/>
<g shape-rendering="crispEdges">
<rect x="0" y="0" width="1699" height="1" fill="#a0a0a0"/>
<rect x="0" y="1" width="1699" height="1" fill="#ffffff"/>
<rect x="0" y="26" width="1699" height="1" fill="#f6f6f6"/>
<rect x="0" y="27" width="1699" height="1" fill="#a0a0a0"/>
<rect x="0" y="28" width="1698" height="1" fill="#696969"/>
</g>
<line x1="-1" y1="17" x2="4.5" y2="23" stroke="#c8a018" stroke-width="3" stroke-linecap="round"/>
<circle cx="-4" cy="13" r="5.4" fill="url(#glens)" stroke="#2f6fd0" stroke-width="1.4"/>
<rect x="13" y="4" width="1" height="21" fill="#a0a0a0" shape-rendering="crispEdges"/>
<path d="M23.5,7.5 h7 l4,4 v9 h-11 z" fill="#fdfdfd" stroke="#8a8a8a" stroke-width="1"/>
<path d="M30.5,7.5 v4 h4" fill="none" stroke="#8a8a8a" stroke-width="1"/>
<path d="M26,11.5 h4 M26,14.5 h5" stroke="#9a9a9a" stroke-width="1"/>
<path d="M31.3,13 h3.4 v4.3 h4.3 v3.4 h-4.3 v4.3 h-3.4 v-4.3 h-4.3 v-3.4 h4.3 z" fill="url(#gplus)" stroke="#0a8a0a" stroke-width="0.7"/>
<text x="41.5" y="18.6" font-size="12" fill="#000">新订单</text>
<path d="M96.5,8 L106,15 L99,23.5 L90,17 z" fill="url(#ggold)" stroke="#a87808" stroke-width="1"/>
<path d="M99,23.5 L106,15 L106.5,16.5 L99.8,24.6 z" fill="#8a6408"/>
<rect x="120.5" y="7.5" width="9" height="9" rx="1" fill="url(#gblue)" stroke="#1a5fc0" stroke-width="1"/>
<rect x="123" y="10" width="5" height="3" fill="#e8f4ff"/>
<path d="M119,22.5 a3,3 0 0 1 1,-5.8 a4,4 0 0 1 7.5,-0.8 a3.2,3.2 0 0 1 4.5,3.2 a2,2 0 0 1 -0.5,3.4 z" fill="#f4f8ff" stroke="#7f9fd0" stroke-width="1"/>
<circle cx="154" cy="15" r="7.5" fill="none" stroke="#9db8e8" stroke-width="1.2"/>
<circle cx="154" cy="15" r="4.5" fill="none" stroke="#6f96d8" stroke-width="1.2"/>
<path d="M154,15 L154,23 A8,8 0 0 0 161.5,15 z" fill="#9ed09e" opacity="0.8"/>
<circle cx="154" cy="15" r="2" fill="#2a5fd0"/>
<line x1="154.5" y1="15" x2="154.5" y2="23" stroke="#1a9a1a" stroke-width="1.4"/>
<path d="M174,14 L188,14 L186,19 L181,23 L176,19 z" fill="#f2cc40" stroke="#c89a10" stroke-width="0.8"/>
<ellipse cx="181" cy="13" rx="8" ry="3" fill="#5aa0e0" stroke="#2f6fb8" stroke-width="0.8"/>
<path d="M176.5,12 a4.5,4.5 0 0 1 9,0 z" fill="#78b8f0" stroke="#2f6fb8" stroke-width="0.8"/>
<circle cx="186" cy="19" r="4.3" fill="#e02010" stroke="#b01008" stroke-width="0.6"/>
<rect x="184.3" y="17.3" width="3.4" height="3.4" fill="#fff"/>
<text x="194" y="18.5" font-size="12" fill="#000">自动交易</text>
<rect x="249" y="2" width="1" height="25" fill="#a0a0a0" shape-rendering="crispEdges"/>
<rect x="253" y="5" width="3" height="1" fill="#a8a8a8" shape-rendering="crispEdges"/>
<rect x="253" y="7" width="3" height="1" fill="#a8a8a8" shape-rendering="crispEdges"/>
<rect x="253" y="9" width="3" height="1" fill="#a8a8a8" shape-rendering="crispEdges"/>
<rect x="253" y="11" width="3" height="1" fill="#a8a8a8" shape-rendering="crispEdges"/>
<rect x="253" y="13" width="3" height="1" fill="#a8a8a8" shape-rendering="crispEdges"/>
<rect x="253" y="15" width="3" height="1" fill="#a8a8a8" shape-rendering="crispEdges"/>
<rect x="253" y="17" width="3" height="1" fill="#a8a8a8" shape-rendering="crispEdges"/>
<rect x="253" y="19" width="3" height="1" fill="#a8a8a8" shape-rendering="crispEdges"/>
<rect x="253" y="21" width="3" height="1" fill="#a8a8a8" shape-rendering="crispEdges"/>
<rect x="253" y="23" width="3" height="1" fill="#a8a8a8" shape-rendering="crispEdges"/>
<g stroke="#505050" stroke-width="1" fill="#505050"><line x1="267.5" y1="10" x2="267.5" y2="23"/><line x1="265" y1="20.5" x2="278" y2="20.5"/><polygon points="267.5,8.5 265.5,11.5 269.5,11.5" stroke="none"/><polygon points="279.5,20.5 276.5,18.5 276.5,22.5" stroke="none"/></g>
<path d="M271,17.5 h2.5 v-7 h3" fill="none" stroke="#18a018" stroke-width="1.6"/>
<rect x="287" y="3" width="26" height="22" fill="url(#chk)"/>
<rect x="287" y="3" width="26" height="1" fill="#a0a0a0" shape-rendering="crispEdges"/>
<rect x="287" y="3" width="1" height="22" fill="#a0a0a0" shape-rendering="crispEdges"/>
<rect x="287" y="24" width="26" height="1" fill="#ffffff" shape-rendering="crispEdges"/>
<rect x="312" y="3" width="1" height="22" fill="#ffffff" shape-rendering="crispEdges"/>
<g stroke="#505050" stroke-width="1" fill="#505050"><line x1="295.5" y1="10" x2="295.5" y2="23"/><line x1="293" y1="20.5" x2="306" y2="20.5"/><polygon points="295.5,8.5 293.5,11.5 297.5,11.5" stroke="none"/><polygon points="307.5,20.5 304.5,18.5 304.5,22.5" stroke="none"/></g>
<line x1="301.5" y1="7" x2="301.5" y2="19" stroke="#0a8a0a" stroke-width="1"/>
<rect x="299.5" y="9.5" width="4" height="7" fill="#30d030" stroke="#0a8a0a" stroke-width="1"/>
<g stroke="#505050" stroke-width="1" fill="#505050"><line x1="323.5" y1="10" x2="323.5" y2="23"/><line x1="321" y1="20.5" x2="334" y2="20.5"/><polygon points="323.5,8.5 321.5,11.5 325.5,11.5" stroke="none"/><polygon points="335.5,20.5 332.5,18.5 332.5,22.5" stroke="none"/></g>
<path d="M322,18 C326,11 328,10 330,13 S333,16 334,16.5" fill="none" stroke="#18a018" stroke-width="1.3"/>
<rect x="344" y="4" width="1" height="21" fill="#a0a0a0" shape-rendering="crispEdges"/>
<line x1="363" y1="17" x2="368.5" y2="22.5" stroke="#c8a018" stroke-width="3.2" stroke-linecap="round"/>
<line x1="363" y1="17" x2="368.5" y2="22.5" stroke="#f0d060" stroke-width="1.4" stroke-linecap="round"/>
<circle cx="359" cy="13" r="5.4" fill="url(#glens)" stroke="#2f6fd0" stroke-width="1.4"/>
<path d="M355.8,13 h6.4 M359,9.8 v6.4" stroke="#3a78b8" stroke-width="1.8"/>
<line x1="391" y1="17" x2="396.5" y2="22.5" stroke="#c8a018" stroke-width="3.2" stroke-linecap="round"/>
<line x1="391" y1="17" x2="396.5" y2="22.5" stroke="#f0d060" stroke-width="1.4" stroke-linecap="round"/>
<circle cx="387" cy="13" r="5.4" fill="url(#glens)" stroke="#2f6fd0" stroke-width="1.4"/>
<path d="M383.8,13 h6.4" stroke="#3a78b8" stroke-width="1.8"/>
<rect x="409" y="7" width="8" height="7.6" rx="0.8" fill="url(#ggreen)"/>
<rect x="410.5" y="10" width="5" height="3" fill="#f4f8ff"/>
<rect x="417.5" y="7" width="8" height="7.6" rx="0.8" fill="url(#gblue)"/>
<rect x="419.0" y="10" width="5" height="3" fill="#f4f8ff"/>
<rect x="409" y="15" width="8" height="7.6" rx="0.8" fill="url(#gblue)"/>
<rect x="410.5" y="18" width="5" height="3" fill="#f4f8ff"/>
<rect x="417.5" y="15" width="8" height="7.6" rx="0.8" fill="url(#ggreen)"/>
<rect x="419.0" y="18" width="5" height="3" fill="#f4f8ff"/>
<rect x="434" y="4" width="1" height="21" fill="#a0a0a0" shape-rendering="crispEdges"/>
<rect x="439" y="3" width="26" height="22" fill="url(#chk)"/>
<rect x="439" y="3" width="26" height="1" fill="#a0a0a0" shape-rendering="crispEdges"/>
<rect x="439" y="3" width="1" height="22" fill="#a0a0a0" shape-rendering="crispEdges"/>
<rect x="439" y="24" width="26" height="1" fill="#ffffff" shape-rendering="crispEdges"/>
<rect x="464" y="3" width="1" height="22" fill="#ffffff" shape-rendering="crispEdges"/>
<g stroke="#505050" stroke-width="1" fill="#505050"><line x1="447.5" y1="10" x2="447.5" y2="23"/><line x1="445" y1="20.5" x2="458" y2="20.5"/><polygon points="447.5,8.5 445.5,11.5 449.5,11.5" stroke="none"/><polygon points="459.5,20.5 456.5,18.5 456.5,22.5" stroke="none"/></g>
<polygon points="452.5,11 452.5,17.5 456.5,14.2" fill="#d8f0d8" stroke="#18a018" stroke-width="1"/>
<rect x="467" y="3" width="26" height="22" fill="url(#chk)"/>
<rect x="467" y="3" width="26" height="1" fill="#a0a0a0" shape-rendering="crispEdges"/>
<rect x="467" y="3" width="1" height="22" fill="#a0a0a0" shape-rendering="crispEdges"/>
<rect x="467" y="24" width="26" height="1" fill="#ffffff" shape-rendering="crispEdges"/>
<rect x="492" y="3" width="1" height="22" fill="#ffffff" shape-rendering="crispEdges"/>
<g stroke="#505050" stroke-width="1" fill="#505050"><line x1="475.5" y1="10" x2="475.5" y2="23"/><line x1="473" y1="20.5" x2="486" y2="20.5"/><polygon points="475.5,8.5 473.5,11.5 477.5,11.5" stroke="none"/><polygon points="487.5,20.5 484.5,18.5 484.5,22.5" stroke="none"/></g>
<line x1="481.5" y1="9" x2="481.5" y2="19" stroke="#1a6fb8" stroke-width="1.2"/>
<path d="M487,14.2 h-4.5 M485,12 l-2.5,2.2 l2.5,2.2" fill="none" stroke="#d03000" stroke-width="1.2"/>
<rect x="496" y="4" width="1" height="21" fill="#a0a0a0" shape-rendering="crispEdges"/>
<path d="M506.5,7.5 h7 l4,4 v9 h-11 z" fill="#fdfdfd" stroke="#8a8a8a" stroke-width="1"/>
<path d="M513.5,7.5 v4 h4" fill="none" stroke="#8a8a8a" stroke-width="1"/>
<text x="508" y="17" font-size="8" font-style="italic" fill="#606060">f</text>
<path d="M514.3,13 h3.4 v4.3 h4.3 v3.4 h-4.3 v4.3 h-3.4 v-4.3 h-4.3 v-3.4 h4.3 z" fill="url(#gplus)" stroke="#0a8a0a" stroke-width="0.7"/>
<polygon points="527.5,14 533.5,14 530.5,17.5" fill="#000"/>
<circle cx="552" cy="14.8" r="6.5" fill="#fff" stroke="#1a6fd0" stroke-width="2.4"/>
<circle cx="552" cy="14.8" r="7.7" fill="none" stroke="#0b4aa0" stroke-width="0.5"/>
<path d="M552,11 V15 H555" fill="none" stroke="#303030" stroke-width="1"/>
<polygon points="566.5,14 572.5,14 569.5,17.5" fill="#000"/>
<rect x="583.5" y="8.5" width="15" height="13" fill="#fff" stroke="#2a6fd0" stroke-width="1.2"/>
<rect x="583.5" y="8.5" width="15" height="2.5" fill="#4a90e0"/>
<path d="M585,14.5 l3,-0.5 l2,-1.5 l3,1 l3,-1.2" fill="none" stroke="#a01010" stroke-width="1.2"/>
<line x1="584" y1="16.3" x2="598" y2="16.3" stroke="#2a6fd0" stroke-width="0.8"/>
<path d="M585,19.8 l3,-0.5 l2.5,-1.5 l2,1.5 l2.5,-1.8 l1.5,1.5" fill="none" stroke="#10a010" stroke-width="1.2"/>
<polygon points="605.5,14 611.5,14 608.5,17.5" fill="#000"/>
<rect x="617" y="2" width="1" height="25" fill="#a0a0a0" shape-rendering="crispEdges"/>
<rect x="621" y="5" width="3" height="1" fill="#a8a8a8" shape-rendering="crispEdges"/>
<rect x="621" y="7" width="3" height="1" fill="#a8a8a8" shape-rendering="crispEdges"/>
<rect x="621" y="9" width="3" height="1" fill="#a8a8a8" shape-rendering="crispEdges"/>
<rect x="621" y="11" width="3" height="1" fill="#a8a8a8" shape-rendering="crispEdges"/>
<rect x="621" y="13" width="3" height="1" fill="#a8a8a8" shape-rendering="crispEdges"/>
<rect x="621" y="15" width="3" height="1" fill="#a8a8a8" shape-rendering="crispEdges"/>
<rect x="621" y="17" width="3" height="1" fill="#a8a8a8" shape-rendering="crispEdges"/>
<rect x="621" y="19" width="3" height="1" fill="#a8a8a8" shape-rendering="crispEdges"/>
<rect x="621" y="21" width="3" height="1" fill="#a8a8a8" shape-rendering="crispEdges"/>
<rect x="621" y="23" width="3" height="1" fill="#a8a8a8" shape-rendering="crispEdges"/>
<rect x="627" y="3" width="26" height="22" fill="url(#chk)"/>
<rect x="627" y="3" width="26" height="1" fill="#a0a0a0" shape-rendering="crispEdges"/>
<rect x="627" y="3" width="1" height="22" fill="#a0a0a0" shape-rendering="crispEdges"/>
<rect x="627" y="24" width="26" height="1" fill="#ffffff" shape-rendering="crispEdges"/>
<rect x="652" y="3" width="1" height="22" fill="#ffffff" shape-rendering="crispEdges"/>
<path d="M635,8 L635,20 L638,17.3 L640.2,22 L642.2,21 L640,16.5 L644,16.2 z" fill="#505050"/>
<path d="M667.5,8 v15 M660,15.5 h15" stroke="#505050" stroke-width="1" shape-rendering="crispEdges"/>
<rect x="684" y="4" width="1" height="21" fill="#a0a0a0" shape-rendering="crispEdges"/>
<g stroke="#505050" stroke-width="1">
<line x1="701.5" y1="9" x2="701.5" y2="22" shape-rendering="crispEdges"/>
<line x1="724" y1="15.5" x2="736" y2="15.5" shape-rendering="crispEdges"/>
<line x1="752" y1="22" x2="764" y2="9.5"/>
<path d="M777.5,17 L787,8.5 M779.5,21.5 L792.5,10 M778.5,19.5 L790,9.3 M781.5,14.5 v6 M784.5,12 v6 M787.5,9.5 v6 M790.5,7.5 v5"/>
</g>
<text x="789" y="24" font-size="7" font-weight="bold" fill="#404040">E</text>
<line x1="807" y1="8.5" x2="820" y2="8.5" stroke="#505050" stroke-width="1" stroke-dasharray="1 1" shape-rendering="crispEdges"/>
<line x1="807" y1="11.5" x2="820" y2="11.5" stroke="#505050" stroke-width="1" stroke-dasharray="1 1" shape-rendering="crispEdges"/>
<line x1="807" y1="15.5" x2="820" y2="15.5" stroke="#505050" stroke-width="1" stroke-dasharray="1 1" shape-rendering="crispEdges"/>
<line x1="807" y1="19.5" x2="816" y2="19.5" stroke="#505050" stroke-width="1" stroke-dasharray="1 1" shape-rendering="crispEdges"/>
<text x="816.8" y="24" font-size="7" font-weight="bold" fill="#404040">F</text>
<text x="837" y="20" font-size="12.5" font-weight="bold" fill="#606060">A</text>
<rect x="864.5" y="9.5" width="11" height="12" fill="none" stroke="#505050" stroke-width="1" stroke-dasharray="1 1" shape-rendering="crispEdges"/>
<text x="866.3" y="20" font-size="11" font-weight="bold" fill="#606060">T</text>
<polygon points="895,9 898.5,12.5 895,14 891.5,12.5" fill="#505050"/>
<polygon points="901.5,17 905,19 901.5,22.5 898,19" fill="#505050"/>
<path d="M893.5,16 l2,2 l5,-5.5" fill="none" stroke="#505050" stroke-width="1.3"/>
<polygon points="911.5,14 917.5,14 914.5,17.5" fill="#000"/>
<rect x="923" y="2" width="1" height="25" fill="#a0a0a0" shape-rendering="crispEdges"/>
<rect x="927" y="5" width="3" height="1" fill="#a8a8a8" shape-rendering="crispEdges"/>
<rect x="927" y="7" width="3" height="1" fill="#a8a8a8" shape-rendering="crispEdges"/>
<rect x="927" y="9" width="3" height="1" fill="#a8a8a8" shape-rendering="crispEdges"/>
<rect x="927" y="11" width="3" height="1" fill="#a8a8a8" shape-rendering="crispEdges"/>
<rect x="927" y="13" width="3" height="1" fill="#a8a8a8" shape-rendering="crispEdges"/>
<rect x="927" y="15" width="3" height="1" fill="#a8a8a8" shape-rendering="crispEdges"/>
<rect x="927" y="17" width="3" height="1" fill="#a8a8a8" shape-rendering="crispEdges"/>
<rect x="927" y="19" width="3" height="1" fill="#a8a8a8" shape-rendering="crispEdges"/>
<rect x="927" y="21" width="3" height="1" fill="#a8a8a8" shape-rendering="crispEdges"/>
<rect x="927" y="23" width="3" height="1" fill="#a8a8a8" shape-rendering="crispEdges"/>
<rect x="1073" y="3" width="26" height="22" fill="url(#chk)"/>
<rect x="1073" y="3" width="26" height="1" fill="#a0a0a0" shape-rendering="crispEdges"/>
<rect x="1073" y="3" width="1" height="22" fill="#a0a0a0" shape-rendering="crispEdges"/>
<rect x="1073" y="24" width="26" height="1" fill="#ffffff" shape-rendering="crispEdges"/>
<rect x="1098" y="3" width="1" height="22" fill="#ffffff" shape-rendering="crispEdges"/>
<text x="938.3" y="18.8" font-size="9.4" fill="#404040">M1</text>
<text x="966.2" y="18.8" font-size="9.4" fill="#404040">M5</text>
<text x="992.2" y="18.8" font-size="9.4" fill="#404040">M15</text>
<text x="1020.3" y="18.8" font-size="9.4" fill="#404040">M30</text>
<text x="1051" y="18.8" font-size="9.4" fill="#404040">H1</text>
<text x="1078.6" y="18.8" font-size="9.4" fill="#404040">H4</text>
<text x="1106.8" y="18.8" font-size="9.4" fill="#404040">D1</text>
<text x="1134.3" y="18.8" font-size="9.4" fill="#404040">W1</text>
<text x="1161.2" y="18.8" font-size="9.4" fill="#404040">MN</text>
<rect x="1184" y="4" width="1" height="21" fill="#a0a0a0" shape-rendering="crispEdges"/>
<line x1="1647.5" y1="19.5" x2="1652" y2="15.5" stroke="#2456c8" stroke-width="2.2" stroke-linecap="round"/>
<circle cx="1654.7" cy="12.8" r="3.6" fill="#f8f8ff" stroke="#2456c8" stroke-width="1.3"/>
<path d="M1672,14 a5.5,4.5 0 0 1 11,2 a5.5,4.5 0 0 1 -6,4.5 l-2.5,2.5 l0.3,-3 a5.5,4.5 0 0 1 -2.8,-6 z" fill="#e4e4e4" stroke="#b0b0b0" stroke-width="0.8"/>
<circle cx="1685.3" cy="12.3" r="8" fill="#e03020"/>
<text x="1685.3" y="17.2" font-size="13" fill="#fff" text-anchor="middle">1</text>
</svg>
</body></html>
